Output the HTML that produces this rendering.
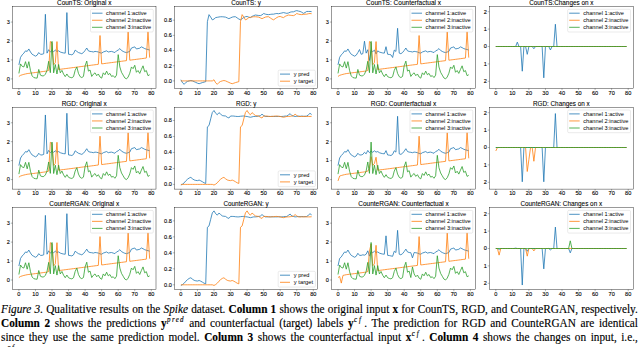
<!DOCTYPE html>
<html><head><meta charset="utf-8"><style>
html,body{margin:0;padding:0;background:#fff;}
body{width:640px;height:347px;overflow:hidden;position:relative;}
svg{position:absolute;left:0;top:0;}
svg text{font-family:"Liberation Sans",sans-serif;}
.cap{position:absolute;left:1px;width:637px;font-family:"Liberation Serif",serif;font-size:12.9px;color:#000;-webkit-text-stroke:0.15px #000;}
.ln{position:absolute;left:0;width:727px;transform:scaleX(0.876);transform-origin:0 0;white-space:nowrap;text-align:justify;text-align-last:justify;line-height:14px;}
.ln b{font-weight:bold;}
.ln sup{font-size:0.62em;vertical-align:0;position:relative;top:-4.6px;font-style:italic;letter-spacing:1.5px;margin-left:0.6px;margin-right:-0.5px;}
.ln sup.cf{margin-right:1.8px;letter-spacing:2px;}

</style></head><body>
<svg width="640" height="347" viewBox="0 0 640 347">
<polyline points="18.90,64.88 20.55,57.30 22.21,54.83 23.86,53.13 25.52,50.85 27.17,51.42 28.83,48.96 30.48,51.99 32.14,54.27 33.80,55.21 35.45,56.16 37.11,55.21 38.76,52.56 40.41,54.27 42.07,54.27 43.72,53.70 45.38,14.28 47.03,53.13 48.69,49.72 50.34,51.99 52.00,50.48 53.66,51.61 55.31,50.10 56.96,51.42 58.62,50.85 60.27,51.99 61.93,52.56 63.59,52.94 65.24,53.13 66.89,12.58 68.55,54.27 70.20,54.45 71.86,54.83 73.52,53.70 75.17,50.10 76.83,51.42 78.48,52.56 80.13,53.13 81.79,53.70 83.44,52.56 85.10,50.48 86.75,48.01 88.41,50.85 90.06,51.42 91.72,51.61 93.38,51.99 95.03,51.42 96.69,51.61 98.34,51.99 100.00,52.75 101.65,53.13 103.31,51.99 104.96,51.42 106.62,50.85 108.27,51.99 109.93,51.61 111.58,51.42 113.24,51.99 114.89,52.56 116.54,50.85 118.20,50.10 119.85,48.58 121.51,50.48 123.16,51.42 124.82,52.18 126.47,52.56 128.13,51.99 129.78,51.42 131.44,48.01 133.09,47.44 134.75,46.87 136.41,48.96 138.06,48.58 139.72,48.20 141.37,46.87 143.03,47.63 144.68,48.58 146.34,49.15 147.99,49.53 149.65,50.10" fill="none" stroke="#1f77b4" stroke-width="0.8" stroke-linejoin="round" stroke-linecap="butt"/>
<polyline points="18.90,76.44 20.55,75.35 22.21,74.80 23.86,74.34 25.52,73.95 27.17,73.59 28.83,73.38 30.48,73.16 32.14,72.95 33.80,72.73 35.45,72.51 37.11,72.30 38.76,72.08 40.41,71.87 42.07,71.65 43.72,71.43 45.38,71.22 47.03,71.00 48.69,70.37 50.34,41.57 52.00,42.90 53.66,64.69 55.31,62.79 56.96,41.57 58.62,69.49 60.27,69.27 61.93,69.06 63.59,68.84 65.24,68.63 66.89,68.41 68.55,68.19 70.20,67.98 71.86,67.76 73.52,67.55 75.17,67.33 76.83,67.11 78.48,66.90 80.13,66.68 81.79,66.47 83.44,66.25 85.10,66.03 86.75,65.82 88.41,65.60 90.06,65.38 91.72,65.17 93.38,64.95 95.03,64.74 96.69,64.52 98.34,64.30 100.00,35.50 101.65,63.87 103.31,63.66 104.96,63.44 106.62,63.22 108.27,63.01 109.93,62.79 111.58,62.58 113.24,62.36 114.89,62.14 116.54,61.93 118.20,61.71 119.85,61.50 121.51,61.28 123.16,61.06 124.82,60.85 126.47,60.63 128.13,31.90 129.78,60.20 131.44,59.98 133.09,59.77 134.75,59.55 136.41,59.34 138.06,59.12 139.72,58.90 141.37,58.69 143.03,58.47 144.68,58.26 146.34,58.04 147.99,31.53 149.65,57.61" fill="none" stroke="#ff7f0e" stroke-width="0.8" stroke-linejoin="round" stroke-linecap="butt"/>
<polyline points="18.90,73.40 20.55,63.93 22.21,66.39 23.86,66.96 25.52,61.66 27.17,68.10 28.83,61.66 30.48,70.56 32.14,75.87 33.80,77.57 35.45,77.95 37.11,78.14 38.76,69.43 40.41,75.11 42.07,75.87 43.72,75.87 45.38,74.16 47.03,70.37 48.69,61.28 50.34,72.65 52.00,41.38 53.66,72.84 55.31,64.50 56.96,73.97 58.62,64.50 60.27,72.84 61.93,70.37 63.59,74.16 65.24,76.63 66.89,73.97 68.55,76.63 70.20,77.38 71.86,77.76 73.52,76.63 75.17,70.37 76.83,66.96 78.48,73.40 80.13,76.63 81.79,77.57 83.44,76.44 85.10,65.82 86.75,61.09 88.41,71.13 90.06,69.99 91.72,76.44 93.38,74.16 95.03,72.84 96.69,75.68 98.34,73.97 100.00,77.01 101.65,78.14 103.31,72.84 104.96,74.73 106.62,71.13 108.27,74.73 109.93,73.40 111.58,76.44 113.24,75.68 114.89,77.57 116.54,75.11 118.20,54.64 119.85,66.96 121.51,72.27 123.16,75.11 124.82,77.95 126.47,78.90 128.13,77.01 129.78,73.22 131.44,66.96 133.09,68.67 134.75,65.26 136.41,72.27 138.06,70.56 139.72,73.40 141.37,69.43 143.03,65.82 144.68,71.70 146.34,70.56 147.99,75.68 149.65,74.73" fill="none" stroke="#2ca02c" stroke-width="0.8" stroke-linejoin="round" stroke-linecap="butt"/>
<rect x="90.50" y="9.30" width="62.80" height="22.70" rx="1.2" fill="#fff" fill-opacity="0.8" stroke="#ccc" stroke-width="0.4"/>
<line x1="92.00" y1="13.20" x2="102.50" y2="13.20" stroke="#1f77b4" stroke-width="0.8"/>
<text x="106.10" y="15.00" font-size="4.90" textLength="40.61" lengthAdjust="spacingAndGlyphs" fill="#000">channel 1:active</text>
<line x1="92.00" y1="20.25" x2="102.50" y2="20.25" stroke="#ff7f0e" stroke-width="0.8"/>
<text x="106.10" y="22.05" font-size="4.90" textLength="45.08" lengthAdjust="spacingAndGlyphs" fill="#000">channel 2:inactive</text>
<line x1="92.00" y1="27.30" x2="102.50" y2="27.30" stroke="#2ca02c" stroke-width="0.8"/>
<text x="106.10" y="29.10" font-size="4.90" textLength="45.08" lengthAdjust="spacingAndGlyphs" fill="#000">channel 3:inactive</text>
<rect x="12.50" y="6.50" width="143.50" height="81.90" fill="none" stroke="#000" stroke-width="0.4"/>
<line x1="18.90" y1="88.40" x2="18.90" y2="90.10" stroke="#000" stroke-width="0.3"/>
<text x="17.34" y="94.70" font-size="5.39" textLength="3.12" lengthAdjust="spacingAndGlyphs" fill="#000" stroke="#000" stroke-width="0.1">0</text>
<line x1="35.45" y1="88.40" x2="35.45" y2="90.10" stroke="#000" stroke-width="0.3"/>
<text x="32.33" y="94.70" font-size="5.39" textLength="6.24" lengthAdjust="spacingAndGlyphs" fill="#000" stroke="#000" stroke-width="0.1">10</text>
<line x1="52.00" y1="88.40" x2="52.00" y2="90.10" stroke="#000" stroke-width="0.3"/>
<text x="48.88" y="94.70" font-size="5.39" textLength="6.24" lengthAdjust="spacingAndGlyphs" fill="#000" stroke="#000" stroke-width="0.1">20</text>
<line x1="68.55" y1="88.40" x2="68.55" y2="90.10" stroke="#000" stroke-width="0.3"/>
<text x="65.43" y="94.70" font-size="5.39" textLength="6.24" lengthAdjust="spacingAndGlyphs" fill="#000" stroke="#000" stroke-width="0.1">30</text>
<line x1="85.10" y1="88.40" x2="85.10" y2="90.10" stroke="#000" stroke-width="0.3"/>
<text x="81.98" y="94.70" font-size="5.39" textLength="6.24" lengthAdjust="spacingAndGlyphs" fill="#000" stroke="#000" stroke-width="0.1">40</text>
<line x1="101.65" y1="88.40" x2="101.65" y2="90.10" stroke="#000" stroke-width="0.3"/>
<text x="98.53" y="94.70" font-size="5.39" textLength="6.24" lengthAdjust="spacingAndGlyphs" fill="#000" stroke="#000" stroke-width="0.1">50</text>
<line x1="118.20" y1="88.40" x2="118.20" y2="90.10" stroke="#000" stroke-width="0.3"/>
<text x="115.08" y="94.70" font-size="5.39" textLength="6.24" lengthAdjust="spacingAndGlyphs" fill="#000" stroke="#000" stroke-width="0.1">60</text>
<line x1="134.75" y1="88.40" x2="134.75" y2="90.10" stroke="#000" stroke-width="0.3"/>
<text x="131.63" y="94.70" font-size="5.39" textLength="6.24" lengthAdjust="spacingAndGlyphs" fill="#000" stroke="#000" stroke-width="0.1">70</text>
<line x1="151.30" y1="88.40" x2="151.30" y2="90.10" stroke="#000" stroke-width="0.3"/>
<text x="148.18" y="94.70" font-size="5.39" textLength="6.24" lengthAdjust="spacingAndGlyphs" fill="#000" stroke="#000" stroke-width="0.1">80</text>
<line x1="10.80" y1="78.90" x2="12.50" y2="78.90" stroke="#000" stroke-width="0.3"/>
<text x="6.78" y="80.70" font-size="5.39" textLength="3.12" lengthAdjust="spacingAndGlyphs" fill="#000" stroke="#000" stroke-width="0.1">0</text>
<line x1="10.80" y1="59.95" x2="12.50" y2="59.95" stroke="#000" stroke-width="0.3"/>
<text x="6.78" y="61.75" font-size="5.39" textLength="3.12" lengthAdjust="spacingAndGlyphs" fill="#000" stroke="#000" stroke-width="0.1">1</text>
<line x1="10.80" y1="41.00" x2="12.50" y2="41.00" stroke="#000" stroke-width="0.3"/>
<text x="6.78" y="42.80" font-size="5.39" textLength="3.12" lengthAdjust="spacingAndGlyphs" fill="#000" stroke="#000" stroke-width="0.1">2</text>
<line x1="10.80" y1="22.05" x2="12.50" y2="22.05" stroke="#000" stroke-width="0.3"/>
<text x="6.78" y="23.85" font-size="5.39" textLength="3.12" lengthAdjust="spacingAndGlyphs" fill="#000" stroke="#000" stroke-width="0.1">3</text>
<text x="57.05" y="4.80" font-size="6.32" textLength="54.41" lengthAdjust="spacingAndGlyphs" fill="#000" stroke="#000" stroke-width="0.08">CounTS: Original x</text>
<polyline points="180.90,79.76 182.56,82.80 184.21,84.32 185.87,82.42 187.52,81.43 189.18,80.90 190.83,80.52 192.49,80.90 194.14,81.66 195.80,82.42 197.45,83.18 199.11,83.71 200.76,83.18 202.42,82.57 204.07,82.11 205.72,81.66 207.38,21.70 209.03,14.64 210.69,17.14 212.34,19.88 214.00,19.04 215.66,17.60 217.31,17.30 218.97,16.99 220.62,16.76 222.28,16.76 223.93,16.92 225.59,17.14 227.24,17.90 228.90,18.66 230.55,17.90 232.21,17.14 233.86,16.76 235.52,16.76 237.17,17.90 238.83,19.04 240.48,19.80 242.13,18.66 243.79,17.52 245.44,16.69 247.10,16.46 248.75,17.14 250.41,17.60 252.06,16.39 253.72,15.63 255.38,15.02 257.03,15.25 258.69,15.47 260.34,15.63 262.00,14.87 263.65,13.50 265.31,14.11 266.96,14.49 268.62,14.64 270.27,14.41 271.93,14.18 273.58,14.18 275.24,13.73 276.89,13.50 278.55,13.73 280.20,13.35 281.86,12.97 283.51,12.59 285.17,12.97 286.82,13.35 288.48,12.97 290.13,12.21 291.79,11.83 293.44,11.83 295.10,11.07 296.75,10.62 298.40,11.07 300.06,11.45 301.72,12.21 303.37,13.35 305.02,12.59 306.68,11.45 308.34,11.45 309.99,11.45 311.64,11.68" fill="none" stroke="#1f77b4" stroke-width="0.8" stroke-linejoin="round" stroke-linecap="butt"/>
<polyline points="180.90,80.90 182.56,80.90 184.21,80.90 185.87,80.90 187.52,80.90 189.18,80.90 190.83,80.90 192.49,80.90 194.14,80.90 195.80,80.90 197.45,80.90 199.11,80.90 200.76,80.90 202.42,80.90 204.07,80.90 205.72,80.90 207.38,80.90 209.03,80.90 210.69,80.90 212.34,80.90 214.00,79.76 215.66,82.80 217.31,84.32 218.97,82.42 220.62,81.43 222.28,80.90 223.93,80.52 225.59,80.90 227.24,81.66 228.90,82.42 230.55,83.18 232.21,83.71 233.86,83.18 235.52,82.57 237.17,82.11 238.83,81.66 240.48,21.70 242.13,14.64 243.79,17.14 245.44,19.88 247.10,19.04 248.75,17.60 250.41,17.30 252.06,16.99 253.72,16.76 255.38,16.76 257.03,16.92 258.69,17.14 260.34,17.90 262.00,18.66 263.65,17.90 265.31,17.14 266.96,16.76 268.62,16.76 270.27,17.90 271.93,19.04 273.58,19.80 275.24,18.66 276.89,17.52 278.55,16.69 280.20,16.46 281.86,17.14 283.51,17.60 285.17,16.39 286.82,15.63 288.48,15.02 290.13,15.25 291.79,15.47 293.44,15.63 295.10,14.87 296.75,13.50 298.40,14.11 300.06,14.49 301.72,14.64 303.37,14.41 305.02,14.18 306.68,14.18 308.34,13.73 309.99,13.50 311.64,13.73" fill="none" stroke="#ff7f0e" stroke-width="0.8" stroke-linejoin="round" stroke-linecap="butt"/>
<rect x="278.20" y="70.20" width="37.20" height="15.80" rx="1.2" fill="#fff" fill-opacity="0.8" stroke="#ccc" stroke-width="0.4"/>
<line x1="280.00" y1="74.10" x2="290.00" y2="74.10" stroke="#1f77b4" stroke-width="0.8"/>
<text x="293.80" y="75.90" font-size="4.90" textLength="15.60" lengthAdjust="spacingAndGlyphs" fill="#000">y pred</text>
<line x1="280.00" y1="81.20" x2="290.00" y2="81.20" stroke="#ff7f0e" stroke-width="0.8"/>
<text x="293.80" y="83.00" font-size="4.90" textLength="19.36" lengthAdjust="spacingAndGlyphs" fill="#000">y target</text>
<rect x="174.50" y="6.50" width="143.20" height="81.90" fill="none" stroke="#000" stroke-width="0.4"/>
<line x1="180.90" y1="88.40" x2="180.90" y2="90.10" stroke="#000" stroke-width="0.3"/>
<text x="179.34" y="94.70" font-size="5.39" textLength="3.12" lengthAdjust="spacingAndGlyphs" fill="#000" stroke="#000" stroke-width="0.1">0</text>
<line x1="197.45" y1="88.40" x2="197.45" y2="90.10" stroke="#000" stroke-width="0.3"/>
<text x="194.33" y="94.70" font-size="5.39" textLength="6.24" lengthAdjust="spacingAndGlyphs" fill="#000" stroke="#000" stroke-width="0.1">10</text>
<line x1="214.00" y1="88.40" x2="214.00" y2="90.10" stroke="#000" stroke-width="0.3"/>
<text x="210.88" y="94.70" font-size="5.39" textLength="6.24" lengthAdjust="spacingAndGlyphs" fill="#000" stroke="#000" stroke-width="0.1">20</text>
<line x1="230.55" y1="88.40" x2="230.55" y2="90.10" stroke="#000" stroke-width="0.3"/>
<text x="227.43" y="94.70" font-size="5.39" textLength="6.24" lengthAdjust="spacingAndGlyphs" fill="#000" stroke="#000" stroke-width="0.1">30</text>
<line x1="247.10" y1="88.40" x2="247.10" y2="90.10" stroke="#000" stroke-width="0.3"/>
<text x="243.98" y="94.70" font-size="5.39" textLength="6.24" lengthAdjust="spacingAndGlyphs" fill="#000" stroke="#000" stroke-width="0.1">40</text>
<line x1="263.65" y1="88.40" x2="263.65" y2="90.10" stroke="#000" stroke-width="0.3"/>
<text x="260.53" y="94.70" font-size="5.39" textLength="6.24" lengthAdjust="spacingAndGlyphs" fill="#000" stroke="#000" stroke-width="0.1">50</text>
<line x1="280.20" y1="88.40" x2="280.20" y2="90.10" stroke="#000" stroke-width="0.3"/>
<text x="277.08" y="94.70" font-size="5.39" textLength="6.24" lengthAdjust="spacingAndGlyphs" fill="#000" stroke="#000" stroke-width="0.1">60</text>
<line x1="296.75" y1="88.40" x2="296.75" y2="90.10" stroke="#000" stroke-width="0.3"/>
<text x="293.63" y="94.70" font-size="5.39" textLength="6.24" lengthAdjust="spacingAndGlyphs" fill="#000" stroke="#000" stroke-width="0.1">70</text>
<line x1="313.30" y1="88.40" x2="313.30" y2="90.10" stroke="#000" stroke-width="0.3"/>
<text x="310.18" y="94.70" font-size="5.39" textLength="6.24" lengthAdjust="spacingAndGlyphs" fill="#000" stroke="#000" stroke-width="0.1">80</text>
<line x1="172.80" y1="80.90" x2="174.50" y2="80.90" stroke="#000" stroke-width="0.3"/>
<text x="164.11" y="82.70" font-size="5.39" textLength="7.79" lengthAdjust="spacingAndGlyphs" fill="#000" stroke="#000" stroke-width="0.1">0.0</text>
<line x1="172.80" y1="65.72" x2="174.50" y2="65.72" stroke="#000" stroke-width="0.3"/>
<text x="164.11" y="67.52" font-size="5.39" textLength="7.79" lengthAdjust="spacingAndGlyphs" fill="#000" stroke="#000" stroke-width="0.1">0.2</text>
<line x1="172.80" y1="50.54" x2="174.50" y2="50.54" stroke="#000" stroke-width="0.3"/>
<text x="164.11" y="52.34" font-size="5.39" textLength="7.79" lengthAdjust="spacingAndGlyphs" fill="#000" stroke="#000" stroke-width="0.1">0.4</text>
<line x1="172.80" y1="35.36" x2="174.50" y2="35.36" stroke="#000" stroke-width="0.3"/>
<text x="164.11" y="37.16" font-size="5.39" textLength="7.79" lengthAdjust="spacingAndGlyphs" fill="#000" stroke="#000" stroke-width="0.1">0.6</text>
<line x1="172.80" y1="20.18" x2="174.50" y2="20.18" stroke="#000" stroke-width="0.3"/>
<text x="164.11" y="21.98" font-size="5.39" textLength="7.79" lengthAdjust="spacingAndGlyphs" fill="#000" stroke="#000" stroke-width="0.1">0.8</text>
<text x="231.27" y="4.80" font-size="6.32" textLength="29.66" lengthAdjust="spacingAndGlyphs" fill="#000" stroke="#000" stroke-width="0.08">CounTS: y</text>
<polyline points="338.00,64.88 339.65,57.30 341.31,54.83 342.96,53.13 344.62,50.85 346.27,51.42 347.93,48.96 349.58,51.99 351.24,54.27 352.89,55.21 354.55,56.16 356.20,55.21 357.86,52.56 359.51,49.53 361.17,54.27 362.82,53.70 364.48,41.19 366.13,53.13 367.79,49.72 369.44,60.52 371.10,50.48 372.75,51.61 374.41,50.10 376.06,53.89 377.72,50.85 379.38,51.99 381.03,52.56 382.69,52.94 384.34,53.13 386.00,46.69 387.65,54.27 389.31,54.45 390.96,54.83 392.62,57.49 394.27,50.10 395.93,51.42 397.58,28.30 399.24,53.13 400.89,53.70 402.55,52.56 404.20,50.48 405.86,48.01 407.51,50.85 409.17,51.42 410.82,51.61 412.48,51.99 414.13,51.42 415.78,51.61 417.44,51.99 419.10,52.75 420.75,53.13 422.40,51.99 424.06,51.42 425.72,50.85 427.37,51.99 429.02,51.61 430.68,51.42 432.34,51.99 433.99,52.56 435.64,50.85 437.30,50.10 438.95,48.58 440.61,50.48 442.26,51.42 443.92,52.18 445.57,52.56 447.23,51.99 448.88,51.42 450.54,48.01 452.19,47.44 453.85,46.87 455.50,48.96 457.16,48.58 458.81,48.20 460.47,46.87 462.12,47.63 463.78,48.58 465.44,49.15 467.09,49.53 468.75,50.10" fill="none" stroke="#1f77b4" stroke-width="0.8" stroke-linejoin="round" stroke-linecap="butt"/>
<polyline points="338.00,76.44 339.65,75.35 341.31,74.80 342.96,74.34 344.62,73.95 346.27,73.59 347.93,73.38 349.58,73.16 351.24,72.95 352.89,72.73 354.55,72.51 356.20,72.30 357.86,72.08 359.51,71.87 361.17,71.65 362.82,71.43 364.48,71.22 366.13,71.00 367.79,70.37 369.44,41.57 371.10,42.90 372.75,64.69 374.41,62.79 376.06,41.57 377.72,69.49 379.38,69.27 381.03,69.06 382.69,68.84 384.34,68.63 386.00,68.41 387.65,68.19 389.31,67.98 390.96,67.76 392.62,67.55 394.27,67.33 395.93,67.11 397.58,66.90 399.24,66.68 400.89,66.47 402.55,66.25 404.20,66.03 405.86,65.82 407.51,65.60 409.17,65.38 410.82,65.17 412.48,64.95 414.13,64.74 415.78,64.52 417.44,64.30 419.10,35.50 420.75,63.87 422.40,63.66 424.06,63.44 425.72,63.22 427.37,63.01 429.02,62.79 430.68,62.58 432.34,62.36 433.99,62.14 435.64,61.93 437.30,61.71 438.95,61.50 440.61,61.28 442.26,61.06 443.92,60.85 445.57,60.63 447.23,31.90 448.88,60.20 450.54,59.98 452.19,59.77 453.85,59.55 455.50,59.34 457.16,59.12 458.81,58.90 460.47,58.69 462.12,58.47 463.78,58.26 465.44,58.04 467.09,31.53 468.75,57.61" fill="none" stroke="#ff7f0e" stroke-width="0.8" stroke-linejoin="round" stroke-linecap="butt"/>
<polyline points="338.00,73.40 339.65,63.93 341.31,66.39 342.96,66.96 344.62,61.66 346.27,68.10 347.93,61.66 349.58,70.56 351.24,75.87 352.89,77.57 354.55,77.95 356.20,78.14 357.86,69.43 359.51,75.11 361.17,75.87 362.82,75.87 364.48,74.16 366.13,70.37 367.79,61.28 369.44,72.65 371.10,41.38 372.75,72.84 374.41,64.50 376.06,73.97 377.72,64.50 379.38,72.84 381.03,70.37 382.69,74.16 384.34,76.63 386.00,73.97 387.65,76.63 389.31,77.38 390.96,77.76 392.62,76.63 394.27,70.37 395.93,66.96 397.58,73.40 399.24,76.63 400.89,77.57 402.55,76.44 404.20,65.82 405.86,61.09 407.51,71.13 409.17,69.99 410.82,76.44 412.48,74.16 414.13,72.84 415.78,75.68 417.44,73.97 419.10,77.01 420.75,78.14 422.40,72.84 424.06,74.73 425.72,71.13 427.37,74.73 429.02,73.40 430.68,76.44 432.34,75.68 433.99,77.57 435.64,75.11 437.30,54.64 438.95,66.96 440.61,72.27 442.26,75.11 443.92,77.95 445.57,78.90 447.23,77.01 448.88,73.22 450.54,66.96 452.19,68.67 453.85,65.26 455.50,72.27 457.16,70.56 458.81,73.40 460.47,69.43 462.12,65.82 463.78,71.70 465.44,70.56 467.09,75.68 468.75,74.73" fill="none" stroke="#2ca02c" stroke-width="0.8" stroke-linejoin="round" stroke-linecap="butt"/>
<rect x="410.00" y="9.30" width="62.80" height="22.70" rx="1.2" fill="#fff" fill-opacity="0.8" stroke="#ccc" stroke-width="0.4"/>
<line x1="411.50" y1="13.20" x2="422.00" y2="13.20" stroke="#1f77b4" stroke-width="0.8"/>
<text x="425.60" y="15.00" font-size="4.90" textLength="40.61" lengthAdjust="spacingAndGlyphs" fill="#000">channel 1:active</text>
<line x1="411.50" y1="20.25" x2="422.00" y2="20.25" stroke="#ff7f0e" stroke-width="0.8"/>
<text x="425.60" y="22.05" font-size="4.90" textLength="45.08" lengthAdjust="spacingAndGlyphs" fill="#000">channel 2:inactive</text>
<line x1="411.50" y1="27.30" x2="422.00" y2="27.30" stroke="#2ca02c" stroke-width="0.8"/>
<text x="425.60" y="29.10" font-size="4.90" textLength="45.08" lengthAdjust="spacingAndGlyphs" fill="#000">channel 3:inactive</text>
<rect x="331.60" y="6.50" width="143.90" height="81.90" fill="none" stroke="#000" stroke-width="0.4"/>
<line x1="338.00" y1="88.40" x2="338.00" y2="90.10" stroke="#000" stroke-width="0.3"/>
<text x="336.44" y="94.70" font-size="5.39" textLength="3.12" lengthAdjust="spacingAndGlyphs" fill="#000" stroke="#000" stroke-width="0.1">0</text>
<line x1="354.55" y1="88.40" x2="354.55" y2="90.10" stroke="#000" stroke-width="0.3"/>
<text x="351.43" y="94.70" font-size="5.39" textLength="6.24" lengthAdjust="spacingAndGlyphs" fill="#000" stroke="#000" stroke-width="0.1">10</text>
<line x1="371.10" y1="88.40" x2="371.10" y2="90.10" stroke="#000" stroke-width="0.3"/>
<text x="367.98" y="94.70" font-size="5.39" textLength="6.24" lengthAdjust="spacingAndGlyphs" fill="#000" stroke="#000" stroke-width="0.1">20</text>
<line x1="387.65" y1="88.40" x2="387.65" y2="90.10" stroke="#000" stroke-width="0.3"/>
<text x="384.53" y="94.70" font-size="5.39" textLength="6.24" lengthAdjust="spacingAndGlyphs" fill="#000" stroke="#000" stroke-width="0.1">30</text>
<line x1="404.20" y1="88.40" x2="404.20" y2="90.10" stroke="#000" stroke-width="0.3"/>
<text x="401.08" y="94.70" font-size="5.39" textLength="6.24" lengthAdjust="spacingAndGlyphs" fill="#000" stroke="#000" stroke-width="0.1">40</text>
<line x1="420.75" y1="88.40" x2="420.75" y2="90.10" stroke="#000" stroke-width="0.3"/>
<text x="417.63" y="94.70" font-size="5.39" textLength="6.24" lengthAdjust="spacingAndGlyphs" fill="#000" stroke="#000" stroke-width="0.1">50</text>
<line x1="437.30" y1="88.40" x2="437.30" y2="90.10" stroke="#000" stroke-width="0.3"/>
<text x="434.18" y="94.70" font-size="5.39" textLength="6.24" lengthAdjust="spacingAndGlyphs" fill="#000" stroke="#000" stroke-width="0.1">60</text>
<line x1="453.85" y1="88.40" x2="453.85" y2="90.10" stroke="#000" stroke-width="0.3"/>
<text x="450.73" y="94.70" font-size="5.39" textLength="6.24" lengthAdjust="spacingAndGlyphs" fill="#000" stroke="#000" stroke-width="0.1">70</text>
<line x1="470.40" y1="88.40" x2="470.40" y2="90.10" stroke="#000" stroke-width="0.3"/>
<text x="467.28" y="94.70" font-size="5.39" textLength="6.24" lengthAdjust="spacingAndGlyphs" fill="#000" stroke="#000" stroke-width="0.1">80</text>
<line x1="329.90" y1="78.90" x2="331.60" y2="78.90" stroke="#000" stroke-width="0.3"/>
<text x="325.88" y="80.70" font-size="5.39" textLength="3.12" lengthAdjust="spacingAndGlyphs" fill="#000" stroke="#000" stroke-width="0.1">0</text>
<line x1="329.90" y1="59.95" x2="331.60" y2="59.95" stroke="#000" stroke-width="0.3"/>
<text x="325.88" y="61.75" font-size="5.39" textLength="3.12" lengthAdjust="spacingAndGlyphs" fill="#000" stroke="#000" stroke-width="0.1">1</text>
<line x1="329.90" y1="41.00" x2="331.60" y2="41.00" stroke="#000" stroke-width="0.3"/>
<text x="325.88" y="42.80" font-size="5.39" textLength="3.12" lengthAdjust="spacingAndGlyphs" fill="#000" stroke="#000" stroke-width="0.1">2</text>
<line x1="329.90" y1="22.05" x2="331.60" y2="22.05" stroke="#000" stroke-width="0.3"/>
<text x="325.88" y="23.85" font-size="5.39" textLength="3.12" lengthAdjust="spacingAndGlyphs" fill="#000" stroke="#000" stroke-width="0.1">3</text>
<text x="366.07" y="4.80" font-size="6.32" textLength="74.97" lengthAdjust="spacingAndGlyphs" fill="#000" stroke="#000" stroke-width="0.08">CounTS: Counterfactual x</text>
<polyline points="495.80,46.50 497.45,46.50 499.11,46.50 500.76,46.50 502.42,46.50 504.07,46.50 505.73,46.50 507.38,46.50 509.04,46.50 510.69,46.50 512.35,46.50 514.00,46.50 515.66,46.50 517.31,42.15 518.97,46.50 520.62,46.50 522.28,71.21 523.93,46.50 525.59,46.50 527.25,54.33 528.90,46.50 530.55,46.50 532.21,46.50 533.87,48.76 535.52,46.50 537.17,46.50 538.83,46.50 540.48,46.50 542.14,46.50 543.79,77.82 545.45,46.50 547.10,46.50 548.76,46.50 550.41,49.98 552.07,46.50 553.72,46.50 555.38,24.23 557.03,46.50 558.69,46.50 560.34,46.50 562.00,46.50 563.65,46.50 565.31,46.50 566.96,46.50 568.62,46.50 570.27,46.50 571.93,46.50 573.58,46.50 575.24,46.50 576.89,46.50 578.55,46.50 580.20,46.50 581.86,46.50 583.51,46.50 585.17,46.50 586.82,46.50 588.48,46.50 590.13,46.50 591.79,46.50 593.44,46.50 595.10,46.50 596.75,46.50 598.41,46.50 600.06,46.50 601.72,46.50 603.38,46.50 605.03,46.50 606.68,46.50 608.34,46.50 610.00,46.50 611.65,46.50 613.30,46.50 614.96,46.50 616.62,46.50 618.27,46.50 619.92,46.50 621.58,46.50 623.23,46.50 624.89,46.50 626.54,46.50" fill="none" stroke="#1f77b4" stroke-width="0.8" stroke-linejoin="round" stroke-linecap="butt"/>
<polyline points="495.80,46.50 497.45,46.50 499.11,46.50 500.76,46.50 502.42,46.50 504.07,46.50 505.73,46.50 507.38,46.50 509.04,46.50 510.69,46.50 512.35,46.50 514.00,46.50 515.66,46.50 517.31,46.50 518.97,46.50 520.62,46.50 522.28,46.50 523.93,46.50 525.59,46.50 527.25,46.50 528.90,46.50 530.55,46.50 532.21,46.50 533.87,46.50 535.52,46.50 537.17,46.50 538.83,46.50 540.48,46.50 542.14,46.50 543.79,46.50 545.45,46.50 547.10,46.50 548.76,46.50 550.41,46.50 552.07,46.50 553.72,46.50 555.38,46.50 557.03,46.50 558.69,46.50 560.34,46.50 562.00,46.50 563.65,46.50 565.31,46.50 566.96,46.50 568.62,46.50 570.27,46.50 571.93,46.50 573.58,46.50 575.24,46.50 576.89,46.50 578.55,46.50 580.20,46.50 581.86,46.50 583.51,46.50 585.17,46.50 586.82,46.50 588.48,46.50 590.13,46.50 591.79,46.50 593.44,46.50 595.10,46.50 596.75,46.50 598.41,46.50 600.06,46.50 601.72,46.50 603.38,46.50 605.03,46.50 606.68,46.50 608.34,46.50 610.00,46.50 611.65,46.50 613.30,46.50 614.96,46.50 616.62,46.50 618.27,46.50 619.92,46.50 621.58,46.50 623.23,46.50 624.89,46.50 626.54,46.50" fill="none" stroke="#ff7f0e" stroke-width="0.8" stroke-linejoin="round" stroke-linecap="butt"/>
<polyline points="495.80,46.50 497.45,46.50 499.11,46.50 500.76,46.50 502.42,46.50 504.07,46.50 505.73,46.50 507.38,46.50 509.04,46.50 510.69,46.50 512.35,46.50 514.00,46.50 515.66,46.50 517.31,46.50 518.97,46.50 520.62,46.50 522.28,46.50 523.93,46.50 525.59,46.50 527.25,46.50 528.90,46.50 530.55,46.50 532.21,46.50 533.87,46.50 535.52,46.50 537.17,46.50 538.83,46.50 540.48,46.50 542.14,46.50 543.79,46.50 545.45,46.50 547.10,46.50 548.76,46.50 550.41,46.50 552.07,46.50 553.72,46.50 555.38,46.50 557.03,46.50 558.69,46.50 560.34,46.50 562.00,46.50 563.65,46.50 565.31,46.50 566.96,46.50 568.62,46.50 570.27,46.50 571.93,46.50 573.58,46.50 575.24,46.50 576.89,46.50 578.55,46.50 580.20,46.50 581.86,46.50 583.51,46.50 585.17,46.50 586.82,46.50 588.48,46.50 590.13,46.50 591.79,46.50 593.44,46.50 595.10,46.50 596.75,46.50 598.41,46.50 600.06,46.50 601.72,46.50 603.38,46.50 605.03,46.50 606.68,46.50 608.34,46.50 610.00,46.50 611.65,46.50 613.30,46.50 614.96,46.50 616.62,46.50 618.27,46.50 619.92,46.50 621.58,46.50 623.23,46.50 624.89,46.50 626.54,46.50" fill="none" stroke="#2ca02c" stroke-width="0.8" stroke-linejoin="round" stroke-linecap="butt"/>
<rect x="567.70" y="9.30" width="62.80" height="22.70" rx="1.2" fill="#fff" fill-opacity="0.8" stroke="#ccc" stroke-width="0.4"/>
<line x1="569.20" y1="13.20" x2="579.70" y2="13.20" stroke="#1f77b4" stroke-width="0.8"/>
<text x="583.30" y="15.00" font-size="4.90" textLength="40.61" lengthAdjust="spacingAndGlyphs" fill="#000">channel 1:active</text>
<line x1="569.20" y1="20.25" x2="579.70" y2="20.25" stroke="#ff7f0e" stroke-width="0.8"/>
<text x="583.30" y="22.05" font-size="4.90" textLength="45.08" lengthAdjust="spacingAndGlyphs" fill="#000">channel 2:inactive</text>
<line x1="569.20" y1="27.30" x2="579.70" y2="27.30" stroke="#2ca02c" stroke-width="0.8"/>
<text x="583.30" y="29.10" font-size="4.90" textLength="45.08" lengthAdjust="spacingAndGlyphs" fill="#000">channel 3:inactive</text>
<rect x="489.40" y="6.50" width="143.80" height="81.90" fill="none" stroke="#000" stroke-width="0.4"/>
<line x1="495.80" y1="88.40" x2="495.80" y2="90.10" stroke="#000" stroke-width="0.3"/>
<text x="494.24" y="94.70" font-size="5.39" textLength="3.12" lengthAdjust="spacingAndGlyphs" fill="#000" stroke="#000" stroke-width="0.1">0</text>
<line x1="512.35" y1="88.40" x2="512.35" y2="90.10" stroke="#000" stroke-width="0.3"/>
<text x="509.23" y="94.70" font-size="5.39" textLength="6.24" lengthAdjust="spacingAndGlyphs" fill="#000" stroke="#000" stroke-width="0.1">10</text>
<line x1="528.90" y1="88.40" x2="528.90" y2="90.10" stroke="#000" stroke-width="0.3"/>
<text x="525.78" y="94.70" font-size="5.39" textLength="6.24" lengthAdjust="spacingAndGlyphs" fill="#000" stroke="#000" stroke-width="0.1">20</text>
<line x1="545.45" y1="88.40" x2="545.45" y2="90.10" stroke="#000" stroke-width="0.3"/>
<text x="542.33" y="94.70" font-size="5.39" textLength="6.24" lengthAdjust="spacingAndGlyphs" fill="#000" stroke="#000" stroke-width="0.1">30</text>
<line x1="562.00" y1="88.40" x2="562.00" y2="90.10" stroke="#000" stroke-width="0.3"/>
<text x="558.88" y="94.70" font-size="5.39" textLength="6.24" lengthAdjust="spacingAndGlyphs" fill="#000" stroke="#000" stroke-width="0.1">40</text>
<line x1="578.55" y1="88.40" x2="578.55" y2="90.10" stroke="#000" stroke-width="0.3"/>
<text x="575.43" y="94.70" font-size="5.39" textLength="6.24" lengthAdjust="spacingAndGlyphs" fill="#000" stroke="#000" stroke-width="0.1">50</text>
<line x1="595.10" y1="88.40" x2="595.10" y2="90.10" stroke="#000" stroke-width="0.3"/>
<text x="591.98" y="94.70" font-size="5.39" textLength="6.24" lengthAdjust="spacingAndGlyphs" fill="#000" stroke="#000" stroke-width="0.1">60</text>
<line x1="611.65" y1="88.40" x2="611.65" y2="90.10" stroke="#000" stroke-width="0.3"/>
<text x="608.53" y="94.70" font-size="5.39" textLength="6.24" lengthAdjust="spacingAndGlyphs" fill="#000" stroke="#000" stroke-width="0.1">70</text>
<line x1="628.20" y1="88.40" x2="628.20" y2="90.10" stroke="#000" stroke-width="0.3"/>
<text x="625.08" y="94.70" font-size="5.39" textLength="6.24" lengthAdjust="spacingAndGlyphs" fill="#000" stroke="#000" stroke-width="0.1">80</text>
<line x1="487.70" y1="11.70" x2="489.40" y2="11.70" stroke="#000" stroke-width="0.3"/>
<text x="483.68" y="13.50" font-size="5.39" textLength="3.12" lengthAdjust="spacingAndGlyphs" fill="#000" stroke="#000" stroke-width="0.1">2</text>
<line x1="487.70" y1="29.10" x2="489.40" y2="29.10" stroke="#000" stroke-width="0.3"/>
<text x="483.68" y="30.90" font-size="5.39" textLength="3.12" lengthAdjust="spacingAndGlyphs" fill="#000" stroke="#000" stroke-width="0.1">1</text>
<line x1="487.70" y1="46.50" x2="489.40" y2="46.50" stroke="#000" stroke-width="0.3"/>
<text x="483.68" y="48.30" font-size="5.39" textLength="3.12" lengthAdjust="spacingAndGlyphs" fill="#000" stroke="#000" stroke-width="0.1">0</text>
<line x1="487.70" y1="63.90" x2="489.40" y2="63.90" stroke="#000" stroke-width="0.3"/>
<text x="483.68" y="65.70" font-size="5.39" textLength="3.12" lengthAdjust="spacingAndGlyphs" fill="#000" stroke="#000" stroke-width="0.1">1</text>
<line x1="487.70" y1="81.30" x2="489.40" y2="81.30" stroke="#000" stroke-width="0.3"/>
<text x="483.68" y="83.10" font-size="5.39" textLength="3.12" lengthAdjust="spacingAndGlyphs" fill="#000" stroke="#000" stroke-width="0.1">2</text>
<text x="529.17" y="4.80" font-size="6.32" textLength="64.25" lengthAdjust="spacingAndGlyphs" fill="#000" stroke="#000" stroke-width="0.08">CounTS:Changes on x</text>
<polyline points="18.90,165.58 20.55,158.00 22.21,155.53 23.86,153.83 25.52,151.55 27.17,152.12 28.83,149.66 30.48,152.69 32.14,154.97 33.80,155.91 35.45,156.86 37.11,155.91 38.76,153.26 40.41,154.97 42.07,154.97 43.72,154.40 45.38,114.98 47.03,153.83 48.69,150.42 50.34,152.69 52.00,151.18 53.66,152.31 55.31,150.80 56.96,152.12 58.62,151.55 60.27,152.69 61.93,153.26 63.59,153.64 65.24,153.83 66.89,113.28 68.55,154.97 70.20,155.15 71.86,155.53 73.52,154.40 75.17,150.80 76.83,152.12 78.48,153.26 80.13,153.83 81.79,154.40 83.44,153.26 85.10,151.18 86.75,148.71 88.41,151.55 90.06,152.12 91.72,152.31 93.38,152.69 95.03,152.12 96.69,152.31 98.34,152.69 100.00,153.45 101.65,153.83 103.31,152.69 104.96,152.12 106.62,151.55 108.27,152.69 109.93,152.31 111.58,152.12 113.24,152.69 114.89,153.26 116.54,151.55 118.20,150.80 119.85,149.28 121.51,151.18 123.16,152.12 124.82,152.88 126.47,153.26 128.13,152.69 129.78,152.12 131.44,148.71 133.09,148.14 134.75,147.57 136.41,149.66 138.06,149.28 139.72,148.90 141.37,147.57 143.03,148.33 144.68,149.28 146.34,149.85 147.99,150.23 149.65,150.80" fill="none" stroke="#1f77b4" stroke-width="0.8" stroke-linejoin="round" stroke-linecap="butt"/>
<polyline points="18.90,177.14 20.55,176.05 22.21,175.50 23.86,175.04 25.52,174.65 27.17,174.29 28.83,174.08 30.48,173.86 32.14,173.65 33.80,173.43 35.45,173.21 37.11,173.00 38.76,172.78 40.41,172.57 42.07,172.35 43.72,172.13 45.38,171.92 47.03,171.70 48.69,171.07 50.34,142.27 52.00,143.60 53.66,165.39 55.31,163.49 56.96,142.27 58.62,170.19 60.27,169.97 61.93,169.76 63.59,169.54 65.24,169.33 66.89,169.11 68.55,168.89 70.20,168.68 71.86,168.46 73.52,168.25 75.17,168.03 76.83,167.81 78.48,167.60 80.13,167.38 81.79,167.17 83.44,166.95 85.10,166.73 86.75,166.52 88.41,166.30 90.06,166.08 91.72,165.87 93.38,165.65 95.03,165.44 96.69,165.22 98.34,165.00 100.00,136.20 101.65,164.57 103.31,164.36 104.96,164.14 106.62,163.92 108.27,163.71 109.93,163.49 111.58,163.28 113.24,163.06 114.89,162.84 116.54,162.63 118.20,162.41 119.85,162.20 121.51,161.98 123.16,161.76 124.82,161.55 126.47,161.33 128.13,132.60 129.78,160.90 131.44,160.68 133.09,160.47 134.75,160.25 136.41,160.04 138.06,159.82 139.72,159.60 141.37,159.39 143.03,159.17 144.68,158.96 146.34,158.74 147.99,132.23 149.65,158.31" fill="none" stroke="#ff7f0e" stroke-width="0.8" stroke-linejoin="round" stroke-linecap="butt"/>
<polyline points="18.90,174.10 20.55,164.63 22.21,167.09 23.86,167.66 25.52,162.36 27.17,168.80 28.83,162.36 30.48,171.26 32.14,176.57 33.80,178.27 35.45,178.65 37.11,178.84 38.76,170.13 40.41,175.81 42.07,176.57 43.72,176.57 45.38,174.86 47.03,171.07 48.69,161.98 50.34,173.35 52.00,142.08 53.66,173.54 55.31,165.20 56.96,174.67 58.62,165.20 60.27,173.54 61.93,171.07 63.59,174.86 65.24,177.33 66.89,174.67 68.55,177.33 70.20,178.08 71.86,178.46 73.52,177.33 75.17,171.07 76.83,167.66 78.48,174.10 80.13,177.33 81.79,178.27 83.44,177.14 85.10,166.52 86.75,161.79 88.41,171.83 90.06,170.69 91.72,177.14 93.38,174.86 95.03,173.54 96.69,176.38 98.34,174.67 100.00,177.71 101.65,178.84 103.31,173.54 104.96,175.43 106.62,171.83 108.27,175.43 109.93,174.10 111.58,177.14 113.24,176.38 114.89,178.27 116.54,175.81 118.20,155.34 119.85,167.66 121.51,172.97 123.16,175.81 124.82,178.65 126.47,179.60 128.13,177.71 129.78,173.92 131.44,167.66 133.09,169.37 134.75,165.96 136.41,172.97 138.06,171.26 139.72,174.10 141.37,170.13 143.03,166.52 144.68,172.40 146.34,171.26 147.99,176.38 149.65,175.43" fill="none" stroke="#2ca02c" stroke-width="0.8" stroke-linejoin="round" stroke-linecap="butt"/>
<rect x="90.50" y="110.00" width="62.80" height="22.70" rx="1.2" fill="#fff" fill-opacity="0.8" stroke="#ccc" stroke-width="0.4"/>
<line x1="92.00" y1="113.90" x2="102.50" y2="113.90" stroke="#1f77b4" stroke-width="0.8"/>
<text x="106.10" y="115.70" font-size="4.90" textLength="40.61" lengthAdjust="spacingAndGlyphs" fill="#000">channel 1:active</text>
<line x1="92.00" y1="120.95" x2="102.50" y2="120.95" stroke="#ff7f0e" stroke-width="0.8"/>
<text x="106.10" y="122.75" font-size="4.90" textLength="45.08" lengthAdjust="spacingAndGlyphs" fill="#000">channel 2:inactive</text>
<line x1="92.00" y1="128.00" x2="102.50" y2="128.00" stroke="#2ca02c" stroke-width="0.8"/>
<text x="106.10" y="129.80" font-size="4.90" textLength="45.08" lengthAdjust="spacingAndGlyphs" fill="#000">channel 3:inactive</text>
<rect x="12.50" y="107.20" width="143.50" height="81.90" fill="none" stroke="#000" stroke-width="0.4"/>
<line x1="18.90" y1="189.10" x2="18.90" y2="190.80" stroke="#000" stroke-width="0.3"/>
<text x="17.34" y="195.40" font-size="5.39" textLength="3.12" lengthAdjust="spacingAndGlyphs" fill="#000" stroke="#000" stroke-width="0.1">0</text>
<line x1="35.45" y1="189.10" x2="35.45" y2="190.80" stroke="#000" stroke-width="0.3"/>
<text x="32.33" y="195.40" font-size="5.39" textLength="6.24" lengthAdjust="spacingAndGlyphs" fill="#000" stroke="#000" stroke-width="0.1">10</text>
<line x1="52.00" y1="189.10" x2="52.00" y2="190.80" stroke="#000" stroke-width="0.3"/>
<text x="48.88" y="195.40" font-size="5.39" textLength="6.24" lengthAdjust="spacingAndGlyphs" fill="#000" stroke="#000" stroke-width="0.1">20</text>
<line x1="68.55" y1="189.10" x2="68.55" y2="190.80" stroke="#000" stroke-width="0.3"/>
<text x="65.43" y="195.40" font-size="5.39" textLength="6.24" lengthAdjust="spacingAndGlyphs" fill="#000" stroke="#000" stroke-width="0.1">30</text>
<line x1="85.10" y1="189.10" x2="85.10" y2="190.80" stroke="#000" stroke-width="0.3"/>
<text x="81.98" y="195.40" font-size="5.39" textLength="6.24" lengthAdjust="spacingAndGlyphs" fill="#000" stroke="#000" stroke-width="0.1">40</text>
<line x1="101.65" y1="189.10" x2="101.65" y2="190.80" stroke="#000" stroke-width="0.3"/>
<text x="98.53" y="195.40" font-size="5.39" textLength="6.24" lengthAdjust="spacingAndGlyphs" fill="#000" stroke="#000" stroke-width="0.1">50</text>
<line x1="118.20" y1="189.10" x2="118.20" y2="190.80" stroke="#000" stroke-width="0.3"/>
<text x="115.08" y="195.40" font-size="5.39" textLength="6.24" lengthAdjust="spacingAndGlyphs" fill="#000" stroke="#000" stroke-width="0.1">60</text>
<line x1="134.75" y1="189.10" x2="134.75" y2="190.80" stroke="#000" stroke-width="0.3"/>
<text x="131.63" y="195.40" font-size="5.39" textLength="6.24" lengthAdjust="spacingAndGlyphs" fill="#000" stroke="#000" stroke-width="0.1">70</text>
<line x1="151.30" y1="189.10" x2="151.30" y2="190.80" stroke="#000" stroke-width="0.3"/>
<text x="148.18" y="195.40" font-size="5.39" textLength="6.24" lengthAdjust="spacingAndGlyphs" fill="#000" stroke="#000" stroke-width="0.1">80</text>
<line x1="10.80" y1="179.60" x2="12.50" y2="179.60" stroke="#000" stroke-width="0.3"/>
<text x="6.78" y="181.40" font-size="5.39" textLength="3.12" lengthAdjust="spacingAndGlyphs" fill="#000" stroke="#000" stroke-width="0.1">0</text>
<line x1="10.80" y1="160.65" x2="12.50" y2="160.65" stroke="#000" stroke-width="0.3"/>
<text x="6.78" y="162.45" font-size="5.39" textLength="3.12" lengthAdjust="spacingAndGlyphs" fill="#000" stroke="#000" stroke-width="0.1">1</text>
<line x1="10.80" y1="141.70" x2="12.50" y2="141.70" stroke="#000" stroke-width="0.3"/>
<text x="6.78" y="143.50" font-size="5.39" textLength="3.12" lengthAdjust="spacingAndGlyphs" fill="#000" stroke="#000" stroke-width="0.1">2</text>
<line x1="10.80" y1="122.75" x2="12.50" y2="122.75" stroke="#000" stroke-width="0.3"/>
<text x="6.78" y="124.55" font-size="5.39" textLength="3.12" lengthAdjust="spacingAndGlyphs" fill="#000" stroke="#000" stroke-width="0.1">3</text>
<text x="61.68" y="105.50" font-size="6.32" textLength="45.15" lengthAdjust="spacingAndGlyphs" fill="#000" stroke="#000" stroke-width="0.08">RGD: Original x</text>
<polyline points="180.90,185.04 182.56,184.16 184.21,182.80 185.87,180.80 187.52,179.21 189.18,178.01 190.83,177.37 192.49,178.81 194.14,179.93 195.80,180.41 197.45,180.64 199.11,180.09 200.76,180.80 202.42,181.76 204.07,182.80 205.72,183.44 207.38,126.87 209.03,125.51 210.69,118.88 212.34,112.49 214.00,110.49 215.66,113.29 217.31,114.73 218.97,112.65 220.62,114.09 222.28,115.53 223.93,115.85 225.59,116.01 227.24,117.28 228.90,118.00 230.55,116.01 232.21,116.01 233.86,116.09 235.52,116.33 237.17,116.48 238.83,116.48 240.48,116.25 242.13,116.09 243.79,116.01 245.44,116.33 247.10,116.48 248.75,116.88 250.41,117.28 252.06,116.88 253.72,116.48 255.38,116.48 257.03,116.33 258.69,116.09 260.34,115.69 262.00,114.17 263.65,115.53 265.31,116.48 266.96,116.48 268.62,116.48 270.27,116.48 271.93,116.33 273.58,116.48 275.24,116.48 276.89,116.48 278.55,116.33 280.20,116.48 281.86,116.48 283.51,116.33 285.17,116.09 286.82,116.09 288.48,114.89 290.13,113.69 291.79,115.53 293.44,116.09 295.10,116.48 296.75,116.33 298.40,116.09 300.06,116.33 301.72,116.09 303.37,116.25 305.02,116.33 306.68,116.09 308.34,114.89 309.99,113.29 311.64,114.49" fill="none" stroke="#1f77b4" stroke-width="0.8" stroke-linejoin="round" stroke-linecap="butt"/>
<polyline points="180.90,184.40 182.56,184.40 184.21,184.40 185.87,184.40 187.52,184.40 189.18,184.40 190.83,184.40 192.49,184.40 194.14,184.40 195.80,184.40 197.45,184.40 199.11,184.40 200.76,184.40 202.42,184.40 204.07,184.40 205.72,184.40 207.38,184.40 209.03,184.40 210.69,184.40 212.34,184.40 214.00,185.04 215.66,184.16 217.31,182.80 218.97,180.80 220.62,179.21 222.28,178.01 223.93,177.37 225.59,178.81 227.24,179.93 228.90,180.41 230.55,180.64 232.21,180.09 233.86,180.80 235.52,181.76 237.17,182.80 238.83,183.44 240.48,126.87 242.13,125.51 243.79,118.88 245.44,112.49 247.10,110.49 248.75,113.29 250.41,114.73 252.06,112.65 253.72,114.09 255.38,115.53 257.03,115.85 258.69,116.01 260.34,117.28 262.00,118.00 263.65,116.01 265.31,116.01 266.96,116.09 268.62,116.33 270.27,116.48 271.93,116.48 273.58,116.25 275.24,116.09 276.89,116.01 278.55,116.33 280.20,116.48 281.86,116.88 283.51,117.28 285.17,116.88 286.82,116.48 288.48,116.48 290.13,116.33 291.79,116.09 293.44,115.69 295.10,114.17 296.75,115.53 298.40,116.48 300.06,116.48 301.72,116.48 303.37,116.48 305.02,116.33 306.68,116.48 308.34,116.48 309.99,116.48 311.64,116.33" fill="none" stroke="#ff7f0e" stroke-width="0.8" stroke-linejoin="round" stroke-linecap="butt"/>
<rect x="278.20" y="170.90" width="37.20" height="15.80" rx="1.2" fill="#fff" fill-opacity="0.8" stroke="#ccc" stroke-width="0.4"/>
<line x1="280.00" y1="174.80" x2="290.00" y2="174.80" stroke="#1f77b4" stroke-width="0.8"/>
<text x="293.80" y="176.60" font-size="4.90" textLength="15.60" lengthAdjust="spacingAndGlyphs" fill="#000">y pred</text>
<line x1="280.00" y1="181.90" x2="290.00" y2="181.90" stroke="#ff7f0e" stroke-width="0.8"/>
<text x="293.80" y="183.70" font-size="4.90" textLength="19.36" lengthAdjust="spacingAndGlyphs" fill="#000">y target</text>
<rect x="174.50" y="107.20" width="143.20" height="81.90" fill="none" stroke="#000" stroke-width="0.4"/>
<line x1="180.90" y1="189.10" x2="180.90" y2="190.80" stroke="#000" stroke-width="0.3"/>
<text x="179.34" y="195.40" font-size="5.39" textLength="3.12" lengthAdjust="spacingAndGlyphs" fill="#000" stroke="#000" stroke-width="0.1">0</text>
<line x1="197.45" y1="189.10" x2="197.45" y2="190.80" stroke="#000" stroke-width="0.3"/>
<text x="194.33" y="195.40" font-size="5.39" textLength="6.24" lengthAdjust="spacingAndGlyphs" fill="#000" stroke="#000" stroke-width="0.1">10</text>
<line x1="214.00" y1="189.10" x2="214.00" y2="190.80" stroke="#000" stroke-width="0.3"/>
<text x="210.88" y="195.40" font-size="5.39" textLength="6.24" lengthAdjust="spacingAndGlyphs" fill="#000" stroke="#000" stroke-width="0.1">20</text>
<line x1="230.55" y1="189.10" x2="230.55" y2="190.80" stroke="#000" stroke-width="0.3"/>
<text x="227.43" y="195.40" font-size="5.39" textLength="6.24" lengthAdjust="spacingAndGlyphs" fill="#000" stroke="#000" stroke-width="0.1">30</text>
<line x1="247.10" y1="189.10" x2="247.10" y2="190.80" stroke="#000" stroke-width="0.3"/>
<text x="243.98" y="195.40" font-size="5.39" textLength="6.24" lengthAdjust="spacingAndGlyphs" fill="#000" stroke="#000" stroke-width="0.1">40</text>
<line x1="263.65" y1="189.10" x2="263.65" y2="190.80" stroke="#000" stroke-width="0.3"/>
<text x="260.53" y="195.40" font-size="5.39" textLength="6.24" lengthAdjust="spacingAndGlyphs" fill="#000" stroke="#000" stroke-width="0.1">50</text>
<line x1="280.20" y1="189.10" x2="280.20" y2="190.80" stroke="#000" stroke-width="0.3"/>
<text x="277.08" y="195.40" font-size="5.39" textLength="6.24" lengthAdjust="spacingAndGlyphs" fill="#000" stroke="#000" stroke-width="0.1">60</text>
<line x1="296.75" y1="189.10" x2="296.75" y2="190.80" stroke="#000" stroke-width="0.3"/>
<text x="293.63" y="195.40" font-size="5.39" textLength="6.24" lengthAdjust="spacingAndGlyphs" fill="#000" stroke="#000" stroke-width="0.1">70</text>
<line x1="313.30" y1="189.10" x2="313.30" y2="190.80" stroke="#000" stroke-width="0.3"/>
<text x="310.18" y="195.40" font-size="5.39" textLength="6.24" lengthAdjust="spacingAndGlyphs" fill="#000" stroke="#000" stroke-width="0.1">80</text>
<line x1="172.80" y1="184.40" x2="174.50" y2="184.40" stroke="#000" stroke-width="0.3"/>
<text x="164.11" y="186.20" font-size="5.39" textLength="7.79" lengthAdjust="spacingAndGlyphs" fill="#000" stroke="#000" stroke-width="0.1">0.0</text>
<line x1="172.80" y1="168.42" x2="174.50" y2="168.42" stroke="#000" stroke-width="0.3"/>
<text x="164.11" y="170.22" font-size="5.39" textLength="7.79" lengthAdjust="spacingAndGlyphs" fill="#000" stroke="#000" stroke-width="0.1">0.2</text>
<line x1="172.80" y1="152.44" x2="174.50" y2="152.44" stroke="#000" stroke-width="0.3"/>
<text x="164.11" y="154.24" font-size="5.39" textLength="7.79" lengthAdjust="spacingAndGlyphs" fill="#000" stroke="#000" stroke-width="0.1">0.4</text>
<line x1="172.80" y1="136.46" x2="174.50" y2="136.46" stroke="#000" stroke-width="0.3"/>
<text x="164.11" y="138.26" font-size="5.39" textLength="7.79" lengthAdjust="spacingAndGlyphs" fill="#000" stroke="#000" stroke-width="0.1">0.6</text>
<line x1="172.80" y1="120.48" x2="174.50" y2="120.48" stroke="#000" stroke-width="0.3"/>
<text x="164.11" y="122.28" font-size="5.39" textLength="7.79" lengthAdjust="spacingAndGlyphs" fill="#000" stroke="#000" stroke-width="0.1">0.8</text>
<text x="235.90" y="105.50" font-size="6.32" textLength="20.40" lengthAdjust="spacingAndGlyphs" fill="#000" stroke="#000" stroke-width="0.08">RGD: y</text>
<polyline points="338.00,165.58 339.65,158.00 341.31,155.53 342.96,153.83 344.62,151.55 346.27,152.12 347.93,149.66 349.58,152.69 351.24,154.97 352.89,155.91 354.55,156.86 356.20,155.91 357.86,153.26 359.51,154.97 361.17,154.97 362.82,154.40 364.48,152.31 366.13,153.83 367.79,150.42 369.44,152.69 371.10,151.18 372.75,152.31 374.41,150.80 376.06,152.12 377.72,151.55 379.38,152.69 381.03,153.26 382.69,153.64 384.34,153.83 386.00,150.61 387.65,154.97 389.31,155.15 390.96,155.53 392.62,154.40 394.27,150.80 395.93,152.12 397.58,116.31 399.24,153.83 400.89,154.40 402.55,153.26 404.20,151.18 405.86,148.71 407.51,151.55 409.17,152.12 410.82,152.31 412.48,152.69 414.13,152.12 415.78,152.31 417.44,152.69 419.10,153.45 420.75,153.83 422.40,152.69 424.06,152.12 425.72,151.55 427.37,152.69 429.02,152.31 430.68,152.12 432.34,152.69 433.99,153.26 435.64,151.55 437.30,150.80 438.95,149.28 440.61,151.18 442.26,152.12 443.92,152.88 445.57,153.26 447.23,152.69 448.88,152.12 450.54,148.71 452.19,148.14 453.85,147.57 455.50,149.66 457.16,149.28 458.81,148.90 460.47,147.57 462.12,148.33 463.78,149.28 465.44,149.85 467.09,150.23 468.75,150.80" fill="none" stroke="#1f77b4" stroke-width="0.8" stroke-linejoin="round" stroke-linecap="butt"/>
<polyline points="338.00,180.93 339.65,176.05 341.31,175.50 342.96,175.04 344.62,174.65 346.27,174.29 347.93,174.08 349.58,173.86 351.24,173.65 352.89,173.43 354.55,173.21 356.20,173.00 357.86,172.78 359.51,172.57 361.17,172.35 362.82,172.13 364.48,171.92 366.13,171.70 367.79,171.07 369.44,168.42 371.10,156.67 372.75,165.39 374.41,163.49 376.06,157.24 377.72,170.19 379.38,169.97 381.03,169.76 382.69,169.54 384.34,169.33 386.00,169.11 387.65,168.89 389.31,168.68 390.96,168.46 392.62,168.25 394.27,168.03 395.93,167.81 397.58,167.60 399.24,167.38 400.89,167.17 402.55,166.95 404.20,166.73 405.86,166.52 407.51,166.30 409.17,166.08 410.82,165.87 412.48,165.65 414.13,165.44 415.78,165.22 417.44,165.00 419.10,136.20 420.75,164.57 422.40,164.36 424.06,164.14 425.72,163.92 427.37,163.71 429.02,163.49 430.68,163.28 432.34,163.06 433.99,162.84 435.64,162.63 437.30,162.41 438.95,162.20 440.61,161.98 442.26,161.76 443.92,161.55 445.57,161.33 447.23,132.60 448.88,160.90 450.54,160.68 452.19,160.47 453.85,160.25 455.50,160.04 457.16,159.82 458.81,159.60 460.47,159.39 462.12,159.17 463.78,158.96 465.44,158.74 467.09,132.23 468.75,158.31" fill="none" stroke="#ff7f0e" stroke-width="0.8" stroke-linejoin="round" stroke-linecap="butt"/>
<polyline points="338.00,174.10 339.65,164.63 341.31,167.09 342.96,167.66 344.62,162.36 346.27,168.80 347.93,162.36 349.58,171.26 351.24,176.57 352.89,178.27 354.55,178.65 356.20,178.84 357.86,170.13 359.51,175.81 361.17,176.57 362.82,176.57 364.48,174.86 366.13,171.07 367.79,161.98 369.44,173.35 371.10,142.08 372.75,173.54 374.41,165.20 376.06,174.67 377.72,165.20 379.38,173.54 381.03,171.07 382.69,174.86 384.34,177.33 386.00,174.67 387.65,177.33 389.31,178.08 390.96,178.46 392.62,177.33 394.27,171.07 395.93,167.66 397.58,174.10 399.24,177.33 400.89,178.27 402.55,177.14 404.20,166.52 405.86,161.79 407.51,171.83 409.17,170.69 410.82,177.14 412.48,174.86 414.13,173.54 415.78,176.38 417.44,174.67 419.10,177.71 420.75,178.84 422.40,173.54 424.06,175.43 425.72,171.83 427.37,175.43 429.02,174.10 430.68,177.14 432.34,176.38 433.99,178.27 435.64,175.81 437.30,155.34 438.95,167.66 440.61,172.97 442.26,175.81 443.92,178.65 445.57,179.60 447.23,177.71 448.88,173.92 450.54,167.66 452.19,169.37 453.85,165.96 455.50,172.97 457.16,171.26 458.81,174.10 460.47,170.13 462.12,166.52 463.78,172.40 465.44,171.26 467.09,176.38 468.75,175.43" fill="none" stroke="#2ca02c" stroke-width="0.8" stroke-linejoin="round" stroke-linecap="butt"/>
<rect x="410.00" y="110.00" width="62.80" height="22.70" rx="1.2" fill="#fff" fill-opacity="0.8" stroke="#ccc" stroke-width="0.4"/>
<line x1="411.50" y1="113.90" x2="422.00" y2="113.90" stroke="#1f77b4" stroke-width="0.8"/>
<text x="425.60" y="115.70" font-size="4.90" textLength="40.61" lengthAdjust="spacingAndGlyphs" fill="#000">channel 1:active</text>
<line x1="411.50" y1="120.95" x2="422.00" y2="120.95" stroke="#ff7f0e" stroke-width="0.8"/>
<text x="425.60" y="122.75" font-size="4.90" textLength="45.08" lengthAdjust="spacingAndGlyphs" fill="#000">channel 2:inactive</text>
<line x1="411.50" y1="128.00" x2="422.00" y2="128.00" stroke="#2ca02c" stroke-width="0.8"/>
<text x="425.60" y="129.80" font-size="4.90" textLength="45.08" lengthAdjust="spacingAndGlyphs" fill="#000">channel 3:inactive</text>
<rect x="331.60" y="107.20" width="143.90" height="81.90" fill="none" stroke="#000" stroke-width="0.4"/>
<line x1="338.00" y1="189.10" x2="338.00" y2="190.80" stroke="#000" stroke-width="0.3"/>
<text x="336.44" y="195.40" font-size="5.39" textLength="3.12" lengthAdjust="spacingAndGlyphs" fill="#000" stroke="#000" stroke-width="0.1">0</text>
<line x1="354.55" y1="189.10" x2="354.55" y2="190.80" stroke="#000" stroke-width="0.3"/>
<text x="351.43" y="195.40" font-size="5.39" textLength="6.24" lengthAdjust="spacingAndGlyphs" fill="#000" stroke="#000" stroke-width="0.1">10</text>
<line x1="371.10" y1="189.10" x2="371.10" y2="190.80" stroke="#000" stroke-width="0.3"/>
<text x="367.98" y="195.40" font-size="5.39" textLength="6.24" lengthAdjust="spacingAndGlyphs" fill="#000" stroke="#000" stroke-width="0.1">20</text>
<line x1="387.65" y1="189.10" x2="387.65" y2="190.80" stroke="#000" stroke-width="0.3"/>
<text x="384.53" y="195.40" font-size="5.39" textLength="6.24" lengthAdjust="spacingAndGlyphs" fill="#000" stroke="#000" stroke-width="0.1">30</text>
<line x1="404.20" y1="189.10" x2="404.20" y2="190.80" stroke="#000" stroke-width="0.3"/>
<text x="401.08" y="195.40" font-size="5.39" textLength="6.24" lengthAdjust="spacingAndGlyphs" fill="#000" stroke="#000" stroke-width="0.1">40</text>
<line x1="420.75" y1="189.10" x2="420.75" y2="190.80" stroke="#000" stroke-width="0.3"/>
<text x="417.63" y="195.40" font-size="5.39" textLength="6.24" lengthAdjust="spacingAndGlyphs" fill="#000" stroke="#000" stroke-width="0.1">50</text>
<line x1="437.30" y1="189.10" x2="437.30" y2="190.80" stroke="#000" stroke-width="0.3"/>
<text x="434.18" y="195.40" font-size="5.39" textLength="6.24" lengthAdjust="spacingAndGlyphs" fill="#000" stroke="#000" stroke-width="0.1">60</text>
<line x1="453.85" y1="189.10" x2="453.85" y2="190.80" stroke="#000" stroke-width="0.3"/>
<text x="450.73" y="195.40" font-size="5.39" textLength="6.24" lengthAdjust="spacingAndGlyphs" fill="#000" stroke="#000" stroke-width="0.1">70</text>
<line x1="470.40" y1="189.10" x2="470.40" y2="190.80" stroke="#000" stroke-width="0.3"/>
<text x="467.28" y="195.40" font-size="5.39" textLength="6.24" lengthAdjust="spacingAndGlyphs" fill="#000" stroke="#000" stroke-width="0.1">80</text>
<line x1="329.90" y1="179.60" x2="331.60" y2="179.60" stroke="#000" stroke-width="0.3"/>
<text x="325.88" y="181.40" font-size="5.39" textLength="3.12" lengthAdjust="spacingAndGlyphs" fill="#000" stroke="#000" stroke-width="0.1">0</text>
<line x1="329.90" y1="160.65" x2="331.60" y2="160.65" stroke="#000" stroke-width="0.3"/>
<text x="325.88" y="162.45" font-size="5.39" textLength="3.12" lengthAdjust="spacingAndGlyphs" fill="#000" stroke="#000" stroke-width="0.1">1</text>
<line x1="329.90" y1="141.70" x2="331.60" y2="141.70" stroke="#000" stroke-width="0.3"/>
<text x="325.88" y="143.50" font-size="5.39" textLength="3.12" lengthAdjust="spacingAndGlyphs" fill="#000" stroke="#000" stroke-width="0.1">2</text>
<line x1="329.90" y1="122.75" x2="331.60" y2="122.75" stroke="#000" stroke-width="0.3"/>
<text x="325.88" y="124.55" font-size="5.39" textLength="3.12" lengthAdjust="spacingAndGlyphs" fill="#000" stroke="#000" stroke-width="0.1">3</text>
<text x="370.70" y="105.50" font-size="6.32" textLength="65.70" lengthAdjust="spacingAndGlyphs" fill="#000" stroke="#000" stroke-width="0.08">RGD: Counterfactual x</text>
<polyline points="495.80,147.50 497.45,147.50 499.11,147.50 500.76,147.50 502.42,147.50 504.07,147.50 505.73,147.50 507.38,147.50 509.04,147.50 510.69,147.50 512.35,147.50 514.00,147.50 515.66,147.50 517.31,147.50 518.97,147.50 520.62,147.50 522.28,181.78 523.93,147.50 525.59,147.50 527.25,147.50 528.90,147.50 530.55,147.50 532.21,147.50 533.87,147.50 535.52,147.50 537.17,147.50 538.83,147.50 540.48,147.50 542.14,147.50 543.79,181.78 545.45,147.50 547.10,147.50 548.76,147.50 550.41,147.50 552.07,147.50 553.72,147.50 555.38,113.57 557.03,147.50 558.69,147.50 560.34,147.50 562.00,147.50 563.65,147.50 565.31,147.50 566.96,147.50 568.62,147.50 570.27,147.50 571.93,147.50 573.58,147.50 575.24,147.50 576.89,147.50 578.55,147.50 580.20,147.50 581.86,147.50 583.51,147.50 585.17,147.50 586.82,147.50 588.48,147.50 590.13,147.50 591.79,147.50 593.44,147.50 595.10,147.50 596.75,147.50 598.41,147.50 600.06,147.50 601.72,147.50 603.38,147.50 605.03,147.50 606.68,147.50 608.34,147.50 610.00,147.50 611.65,147.50 613.30,147.50 614.96,147.50 616.62,147.50 618.27,147.50 619.92,147.50 621.58,147.50 623.23,147.50 624.89,147.50 626.54,147.50" fill="none" stroke="#1f77b4" stroke-width="0.8" stroke-linejoin="round" stroke-linecap="butt"/>
<polyline points="495.80,150.98 497.45,147.50 499.11,147.50 500.76,147.50 502.42,147.50 504.07,147.50 505.73,147.50 507.38,147.50 509.04,147.50 510.69,147.50 512.35,147.50 514.00,147.50 515.66,147.50 517.31,147.50 518.97,147.50 520.62,147.50 522.28,147.50 523.93,147.50 525.59,147.50 527.25,171.51 528.90,159.51 530.55,147.50 532.21,147.50 533.87,161.25 535.52,147.50 537.17,147.50 538.83,147.50 540.48,147.50 542.14,147.50 543.79,147.50 545.45,147.50 547.10,147.50 548.76,147.50 550.41,147.50 552.07,147.50 553.72,147.50 555.38,147.50 557.03,147.50 558.69,147.50 560.34,147.50 562.00,147.50 563.65,147.50 565.31,147.50 566.96,147.50 568.62,147.50 570.27,147.50 571.93,147.50 573.58,147.50 575.24,147.50 576.89,147.50 578.55,147.50 580.20,147.50 581.86,147.50 583.51,147.50 585.17,147.50 586.82,147.50 588.48,147.50 590.13,147.50 591.79,147.50 593.44,147.50 595.10,147.50 596.75,147.50 598.41,147.50 600.06,147.50 601.72,147.50 603.38,147.50 605.03,147.50 606.68,147.50 608.34,147.50 610.00,147.50 611.65,147.50 613.30,147.50 614.96,147.50 616.62,147.50 618.27,147.50 619.92,147.50 621.58,147.50 623.23,147.50 624.89,147.50 626.54,147.50" fill="none" stroke="#ff7f0e" stroke-width="0.8" stroke-linejoin="round" stroke-linecap="butt"/>
<polyline points="495.80,147.50 497.45,147.50 499.11,147.50 500.76,147.50 502.42,147.50 504.07,147.50 505.73,147.50 507.38,147.50 509.04,147.50 510.69,147.50 512.35,147.50 514.00,147.50 515.66,147.50 517.31,147.50 518.97,147.50 520.62,147.50 522.28,147.50 523.93,147.50 525.59,147.50 527.25,147.50 528.90,147.50 530.55,147.50 532.21,147.50 533.87,147.50 535.52,147.50 537.17,147.50 538.83,147.50 540.48,147.50 542.14,147.50 543.79,147.50 545.45,147.50 547.10,147.50 548.76,147.50 550.41,147.50 552.07,147.50 553.72,147.50 555.38,147.50 557.03,147.50 558.69,147.50 560.34,147.50 562.00,147.50 563.65,147.50 565.31,147.50 566.96,147.50 568.62,147.50 570.27,147.50 571.93,147.50 573.58,147.50 575.24,147.50 576.89,147.50 578.55,147.50 580.20,147.50 581.86,147.50 583.51,147.50 585.17,147.50 586.82,147.50 588.48,147.50 590.13,147.50 591.79,147.50 593.44,147.50 595.10,147.50 596.75,147.50 598.41,147.50 600.06,147.50 601.72,147.50 603.38,147.50 605.03,147.50 606.68,147.50 608.34,147.50 610.00,147.50 611.65,147.50 613.30,147.50 614.96,147.50 616.62,147.50 618.27,147.50 619.92,147.50 621.58,147.50 623.23,147.50 624.89,147.50 626.54,147.50" fill="none" stroke="#2ca02c" stroke-width="0.8" stroke-linejoin="round" stroke-linecap="butt"/>
<rect x="567.70" y="110.00" width="62.80" height="22.70" rx="1.2" fill="#fff" fill-opacity="0.8" stroke="#ccc" stroke-width="0.4"/>
<line x1="569.20" y1="113.90" x2="579.70" y2="113.90" stroke="#1f77b4" stroke-width="0.8"/>
<text x="583.30" y="115.70" font-size="4.90" textLength="40.61" lengthAdjust="spacingAndGlyphs" fill="#000">channel 1:active</text>
<line x1="569.20" y1="120.95" x2="579.70" y2="120.95" stroke="#ff7f0e" stroke-width="0.8"/>
<text x="583.30" y="122.75" font-size="4.90" textLength="45.08" lengthAdjust="spacingAndGlyphs" fill="#000">channel 2:inactive</text>
<line x1="569.20" y1="128.00" x2="579.70" y2="128.00" stroke="#2ca02c" stroke-width="0.8"/>
<text x="583.30" y="129.80" font-size="4.90" textLength="45.08" lengthAdjust="spacingAndGlyphs" fill="#000">channel 3:inactive</text>
<rect x="489.40" y="107.20" width="143.80" height="81.90" fill="none" stroke="#000" stroke-width="0.4"/>
<line x1="495.80" y1="189.10" x2="495.80" y2="190.80" stroke="#000" stroke-width="0.3"/>
<text x="494.24" y="195.40" font-size="5.39" textLength="3.12" lengthAdjust="spacingAndGlyphs" fill="#000" stroke="#000" stroke-width="0.1">0</text>
<line x1="512.35" y1="189.10" x2="512.35" y2="190.80" stroke="#000" stroke-width="0.3"/>
<text x="509.23" y="195.40" font-size="5.39" textLength="6.24" lengthAdjust="spacingAndGlyphs" fill="#000" stroke="#000" stroke-width="0.1">10</text>
<line x1="528.90" y1="189.10" x2="528.90" y2="190.80" stroke="#000" stroke-width="0.3"/>
<text x="525.78" y="195.40" font-size="5.39" textLength="6.24" lengthAdjust="spacingAndGlyphs" fill="#000" stroke="#000" stroke-width="0.1">20</text>
<line x1="545.45" y1="189.10" x2="545.45" y2="190.80" stroke="#000" stroke-width="0.3"/>
<text x="542.33" y="195.40" font-size="5.39" textLength="6.24" lengthAdjust="spacingAndGlyphs" fill="#000" stroke="#000" stroke-width="0.1">30</text>
<line x1="562.00" y1="189.10" x2="562.00" y2="190.80" stroke="#000" stroke-width="0.3"/>
<text x="558.88" y="195.40" font-size="5.39" textLength="6.24" lengthAdjust="spacingAndGlyphs" fill="#000" stroke="#000" stroke-width="0.1">40</text>
<line x1="578.55" y1="189.10" x2="578.55" y2="190.80" stroke="#000" stroke-width="0.3"/>
<text x="575.43" y="195.40" font-size="5.39" textLength="6.24" lengthAdjust="spacingAndGlyphs" fill="#000" stroke="#000" stroke-width="0.1">50</text>
<line x1="595.10" y1="189.10" x2="595.10" y2="190.80" stroke="#000" stroke-width="0.3"/>
<text x="591.98" y="195.40" font-size="5.39" textLength="6.24" lengthAdjust="spacingAndGlyphs" fill="#000" stroke="#000" stroke-width="0.1">60</text>
<line x1="611.65" y1="189.10" x2="611.65" y2="190.80" stroke="#000" stroke-width="0.3"/>
<text x="608.53" y="195.40" font-size="5.39" textLength="6.24" lengthAdjust="spacingAndGlyphs" fill="#000" stroke="#000" stroke-width="0.1">70</text>
<line x1="628.20" y1="189.10" x2="628.20" y2="190.80" stroke="#000" stroke-width="0.3"/>
<text x="625.08" y="195.40" font-size="5.39" textLength="6.24" lengthAdjust="spacingAndGlyphs" fill="#000" stroke="#000" stroke-width="0.1">80</text>
<line x1="487.70" y1="112.70" x2="489.40" y2="112.70" stroke="#000" stroke-width="0.3"/>
<text x="483.68" y="114.50" font-size="5.39" textLength="3.12" lengthAdjust="spacingAndGlyphs" fill="#000" stroke="#000" stroke-width="0.1">2</text>
<line x1="487.70" y1="130.10" x2="489.40" y2="130.10" stroke="#000" stroke-width="0.3"/>
<text x="483.68" y="131.90" font-size="5.39" textLength="3.12" lengthAdjust="spacingAndGlyphs" fill="#000" stroke="#000" stroke-width="0.1">1</text>
<line x1="487.70" y1="147.50" x2="489.40" y2="147.50" stroke="#000" stroke-width="0.3"/>
<text x="483.68" y="149.30" font-size="5.39" textLength="3.12" lengthAdjust="spacingAndGlyphs" fill="#000" stroke="#000" stroke-width="0.1">0</text>
<line x1="487.70" y1="164.90" x2="489.40" y2="164.90" stroke="#000" stroke-width="0.3"/>
<text x="483.68" y="166.70" font-size="5.39" textLength="3.12" lengthAdjust="spacingAndGlyphs" fill="#000" stroke="#000" stroke-width="0.1">1</text>
<line x1="487.70" y1="182.30" x2="489.40" y2="182.30" stroke="#000" stroke-width="0.3"/>
<text x="483.68" y="184.10" font-size="5.39" textLength="3.12" lengthAdjust="spacingAndGlyphs" fill="#000" stroke="#000" stroke-width="0.1">2</text>
<text x="532.88" y="105.50" font-size="6.32" textLength="56.85" lengthAdjust="spacingAndGlyphs" fill="#000" stroke="#000" stroke-width="0.08">RGD: Changes on x</text>
<polyline points="18.90,265.98 20.55,258.40 22.21,255.93 23.86,254.23 25.52,251.95 27.17,252.52 28.83,250.06 30.48,253.09 32.14,255.37 33.80,256.31 35.45,257.26 37.11,256.31 38.76,253.66 40.41,255.37 42.07,255.37 43.72,254.80 45.38,215.38 47.03,254.23 48.69,250.82 50.34,253.09 52.00,251.57 53.66,252.71 55.31,251.20 56.96,252.52 58.62,251.95 60.27,253.09 61.93,253.66 63.59,254.04 65.24,254.23 66.89,213.68 68.55,255.37 70.20,255.55 71.86,255.93 73.52,254.80 75.17,251.20 76.83,252.52 78.48,253.66 80.13,254.23 81.79,254.80 83.44,253.66 85.10,251.57 86.75,249.11 88.41,251.95 90.06,252.52 91.72,252.71 93.38,253.09 95.03,252.52 96.69,252.71 98.34,253.09 100.00,253.85 101.65,254.23 103.31,253.09 104.96,252.52 106.62,251.95 108.27,253.09 109.93,252.71 111.58,252.52 113.24,253.09 114.89,253.66 116.54,251.95 118.20,251.20 119.85,249.68 121.51,251.57 123.16,252.52 124.82,253.28 126.47,253.66 128.13,253.09 129.78,252.52 131.44,249.11 133.09,248.54 134.75,247.97 136.41,250.06 138.06,249.68 139.72,249.30 141.37,247.97 143.03,248.73 144.68,249.68 146.34,250.25 147.99,250.63 149.65,251.20" fill="none" stroke="#1f77b4" stroke-width="0.8" stroke-linejoin="round" stroke-linecap="butt"/>
<polyline points="18.90,277.54 20.55,276.45 22.21,275.90 23.86,275.44 25.52,275.05 27.17,274.69 28.83,274.48 30.48,274.26 32.14,274.05 33.80,273.83 35.45,273.61 37.11,273.40 38.76,273.18 40.41,272.97 42.07,272.75 43.72,272.53 45.38,272.32 47.03,272.10 48.69,271.47 50.34,242.67 52.00,244.00 53.66,265.79 55.31,263.89 56.96,242.67 58.62,270.59 60.27,270.37 61.93,270.16 63.59,269.94 65.24,269.73 66.89,269.51 68.55,269.29 70.20,269.08 71.86,268.86 73.52,268.65 75.17,268.43 76.83,268.21 78.48,268.00 80.13,267.78 81.79,267.57 83.44,267.35 85.10,267.13 86.75,266.92 88.41,266.70 90.06,266.48 91.72,266.27 93.38,266.05 95.03,265.84 96.69,265.62 98.34,265.40 100.00,236.60 101.65,264.97 103.31,264.76 104.96,264.54 106.62,264.32 108.27,264.11 109.93,263.89 111.58,263.68 113.24,263.46 114.89,263.24 116.54,263.03 118.20,262.81 119.85,262.60 121.51,262.38 123.16,262.16 124.82,261.95 126.47,261.73 128.13,233.00 129.78,261.30 131.44,261.08 133.09,260.87 134.75,260.65 136.41,260.44 138.06,260.22 139.72,260.00 141.37,259.79 143.03,259.57 144.68,259.36 146.34,259.14 147.99,232.62 149.65,258.71" fill="none" stroke="#ff7f0e" stroke-width="0.8" stroke-linejoin="round" stroke-linecap="butt"/>
<polyline points="18.90,274.50 20.55,265.03 22.21,267.49 23.86,268.06 25.52,262.76 27.17,269.20 28.83,262.76 30.48,271.66 32.14,276.97 33.80,278.67 35.45,279.05 37.11,279.24 38.76,270.52 40.41,276.21 42.07,276.97 43.72,276.97 45.38,275.26 47.03,271.47 48.69,262.38 50.34,273.75 52.00,242.48 53.66,273.94 55.31,265.60 56.96,275.07 58.62,265.60 60.27,273.94 61.93,271.47 63.59,275.26 65.24,277.73 66.89,275.07 68.55,277.73 70.20,278.48 71.86,278.86 73.52,277.73 75.17,271.47 76.83,268.06 78.48,274.50 80.13,277.73 81.79,278.67 83.44,277.54 85.10,266.92 86.75,262.19 88.41,272.23 90.06,271.09 91.72,277.54 93.38,275.26 95.03,273.94 96.69,276.78 98.34,275.07 100.00,278.11 101.65,279.24 103.31,273.94 104.96,275.83 106.62,272.23 108.27,275.83 109.93,274.50 111.58,277.54 113.24,276.78 114.89,278.67 116.54,276.21 118.20,255.74 119.85,268.06 121.51,273.37 123.16,276.21 124.82,279.05 126.47,280.00 128.13,278.11 129.78,274.31 131.44,268.06 133.09,269.77 134.75,266.36 136.41,273.37 138.06,271.66 139.72,274.50 141.37,270.52 143.03,266.92 144.68,272.80 146.34,271.66 147.99,276.78 149.65,275.83" fill="none" stroke="#2ca02c" stroke-width="0.8" stroke-linejoin="round" stroke-linecap="butt"/>
<rect x="90.50" y="210.40" width="62.80" height="22.70" rx="1.2" fill="#fff" fill-opacity="0.8" stroke="#ccc" stroke-width="0.4"/>
<line x1="92.00" y1="214.30" x2="102.50" y2="214.30" stroke="#1f77b4" stroke-width="0.8"/>
<text x="106.10" y="216.10" font-size="4.90" textLength="40.61" lengthAdjust="spacingAndGlyphs" fill="#000">channel 1:active</text>
<line x1="92.00" y1="221.35" x2="102.50" y2="221.35" stroke="#ff7f0e" stroke-width="0.8"/>
<text x="106.10" y="223.15" font-size="4.90" textLength="45.08" lengthAdjust="spacingAndGlyphs" fill="#000">channel 2:inactive</text>
<line x1="92.00" y1="228.40" x2="102.50" y2="228.40" stroke="#2ca02c" stroke-width="0.8"/>
<text x="106.10" y="230.20" font-size="4.90" textLength="45.08" lengthAdjust="spacingAndGlyphs" fill="#000">channel 3:inactive</text>
<rect x="12.50" y="207.60" width="143.50" height="81.90" fill="none" stroke="#000" stroke-width="0.4"/>
<line x1="18.90" y1="289.50" x2="18.90" y2="291.20" stroke="#000" stroke-width="0.3"/>
<text x="17.34" y="295.80" font-size="5.39" textLength="3.12" lengthAdjust="spacingAndGlyphs" fill="#000" stroke="#000" stroke-width="0.1">0</text>
<line x1="35.45" y1="289.50" x2="35.45" y2="291.20" stroke="#000" stroke-width="0.3"/>
<text x="32.33" y="295.80" font-size="5.39" textLength="6.24" lengthAdjust="spacingAndGlyphs" fill="#000" stroke="#000" stroke-width="0.1">10</text>
<line x1="52.00" y1="289.50" x2="52.00" y2="291.20" stroke="#000" stroke-width="0.3"/>
<text x="48.88" y="295.80" font-size="5.39" textLength="6.24" lengthAdjust="spacingAndGlyphs" fill="#000" stroke="#000" stroke-width="0.1">20</text>
<line x1="68.55" y1="289.50" x2="68.55" y2="291.20" stroke="#000" stroke-width="0.3"/>
<text x="65.43" y="295.80" font-size="5.39" textLength="6.24" lengthAdjust="spacingAndGlyphs" fill="#000" stroke="#000" stroke-width="0.1">30</text>
<line x1="85.10" y1="289.50" x2="85.10" y2="291.20" stroke="#000" stroke-width="0.3"/>
<text x="81.98" y="295.80" font-size="5.39" textLength="6.24" lengthAdjust="spacingAndGlyphs" fill="#000" stroke="#000" stroke-width="0.1">40</text>
<line x1="101.65" y1="289.50" x2="101.65" y2="291.20" stroke="#000" stroke-width="0.3"/>
<text x="98.53" y="295.80" font-size="5.39" textLength="6.24" lengthAdjust="spacingAndGlyphs" fill="#000" stroke="#000" stroke-width="0.1">50</text>
<line x1="118.20" y1="289.50" x2="118.20" y2="291.20" stroke="#000" stroke-width="0.3"/>
<text x="115.08" y="295.80" font-size="5.39" textLength="6.24" lengthAdjust="spacingAndGlyphs" fill="#000" stroke="#000" stroke-width="0.1">60</text>
<line x1="134.75" y1="289.50" x2="134.75" y2="291.20" stroke="#000" stroke-width="0.3"/>
<text x="131.63" y="295.80" font-size="5.39" textLength="6.24" lengthAdjust="spacingAndGlyphs" fill="#000" stroke="#000" stroke-width="0.1">70</text>
<line x1="151.30" y1="289.50" x2="151.30" y2="291.20" stroke="#000" stroke-width="0.3"/>
<text x="148.18" y="295.80" font-size="5.39" textLength="6.24" lengthAdjust="spacingAndGlyphs" fill="#000" stroke="#000" stroke-width="0.1">80</text>
<line x1="10.80" y1="280.00" x2="12.50" y2="280.00" stroke="#000" stroke-width="0.3"/>
<text x="6.78" y="281.80" font-size="5.39" textLength="3.12" lengthAdjust="spacingAndGlyphs" fill="#000" stroke="#000" stroke-width="0.1">0</text>
<line x1="10.80" y1="261.05" x2="12.50" y2="261.05" stroke="#000" stroke-width="0.3"/>
<text x="6.78" y="262.85" font-size="5.39" textLength="3.12" lengthAdjust="spacingAndGlyphs" fill="#000" stroke="#000" stroke-width="0.1">1</text>
<line x1="10.80" y1="242.10" x2="12.50" y2="242.10" stroke="#000" stroke-width="0.3"/>
<text x="6.78" y="243.90" font-size="5.39" textLength="3.12" lengthAdjust="spacingAndGlyphs" fill="#000" stroke="#000" stroke-width="0.1">2</text>
<line x1="10.80" y1="223.15" x2="12.50" y2="223.15" stroke="#000" stroke-width="0.3"/>
<text x="6.78" y="224.95" font-size="5.39" textLength="3.12" lengthAdjust="spacingAndGlyphs" fill="#000" stroke="#000" stroke-width="0.1">3</text>
<text x="49.25" y="205.90" font-size="6.32" textLength="69.99" lengthAdjust="spacingAndGlyphs" fill="#000" stroke="#000" stroke-width="0.08">CounteRGAN: Original x</text>
<polyline points="180.90,285.44 182.56,284.56 184.21,283.20 185.87,281.20 187.52,279.61 189.18,278.41 190.83,277.77 192.49,279.21 194.14,280.33 195.80,280.81 197.45,281.04 199.11,280.49 200.76,281.20 202.42,282.16 204.07,283.20 205.72,283.84 207.38,227.27 209.03,225.91 210.69,219.28 212.34,212.89 214.00,210.89 215.66,213.69 217.31,215.13 218.97,213.05 220.62,214.49 222.28,215.93 223.93,216.25 225.59,216.41 227.24,217.68 228.90,218.40 230.55,216.41 232.21,216.41 233.86,216.49 235.52,216.73 237.17,216.88 238.83,216.88 240.48,216.65 242.13,216.49 243.79,216.41 245.44,216.73 247.10,216.88 248.75,217.28 250.41,217.68 252.06,217.28 253.72,216.88 255.38,216.88 257.03,216.73 258.69,216.49 260.34,216.09 262.00,214.57 263.65,215.93 265.31,216.88 266.96,216.88 268.62,216.88 270.27,216.88 271.93,216.73 273.58,216.88 275.24,216.88 276.89,216.88 278.55,216.73 280.20,216.88 281.86,216.88 283.51,216.73 285.17,216.49 286.82,216.49 288.48,215.29 290.13,214.09 291.79,215.93 293.44,216.49 295.10,216.88 296.75,216.73 298.40,216.49 300.06,216.73 301.72,216.49 303.37,216.65 305.02,216.73 306.68,216.49 308.34,215.29 309.99,213.69 311.64,214.89" fill="none" stroke="#1f77b4" stroke-width="0.8" stroke-linejoin="round" stroke-linecap="butt"/>
<polyline points="180.90,284.80 182.56,284.80 184.21,284.80 185.87,284.80 187.52,284.80 189.18,284.80 190.83,284.80 192.49,284.80 194.14,284.80 195.80,284.80 197.45,284.80 199.11,284.80 200.76,284.80 202.42,284.80 204.07,284.80 205.72,284.80 207.38,284.80 209.03,284.80 210.69,284.80 212.34,284.80 214.00,285.44 215.66,284.56 217.31,283.20 218.97,281.20 220.62,279.61 222.28,278.41 223.93,277.77 225.59,279.21 227.24,280.33 228.90,280.81 230.55,281.04 232.21,280.49 233.86,281.20 235.52,282.16 237.17,283.20 238.83,283.84 240.48,227.27 242.13,225.91 243.79,219.28 245.44,212.89 247.10,210.89 248.75,213.69 250.41,215.13 252.06,213.05 253.72,214.49 255.38,215.93 257.03,216.25 258.69,216.41 260.34,217.68 262.00,218.40 263.65,216.41 265.31,216.41 266.96,216.49 268.62,216.73 270.27,216.88 271.93,216.88 273.58,216.65 275.24,216.49 276.89,216.41 278.55,216.73 280.20,216.88 281.86,217.28 283.51,217.68 285.17,217.28 286.82,216.88 288.48,216.88 290.13,216.73 291.79,216.49 293.44,216.09 295.10,214.57 296.75,215.93 298.40,216.88 300.06,216.88 301.72,216.88 303.37,216.88 305.02,216.73 306.68,216.88 308.34,216.88 309.99,216.88 311.64,216.73" fill="none" stroke="#ff7f0e" stroke-width="0.8" stroke-linejoin="round" stroke-linecap="butt"/>
<rect x="278.20" y="271.30" width="37.20" height="15.80" rx="1.2" fill="#fff" fill-opacity="0.8" stroke="#ccc" stroke-width="0.4"/>
<line x1="280.00" y1="275.20" x2="290.00" y2="275.20" stroke="#1f77b4" stroke-width="0.8"/>
<text x="293.80" y="277.00" font-size="4.90" textLength="15.60" lengthAdjust="spacingAndGlyphs" fill="#000">y pred</text>
<line x1="280.00" y1="282.30" x2="290.00" y2="282.30" stroke="#ff7f0e" stroke-width="0.8"/>
<text x="293.80" y="284.10" font-size="4.90" textLength="19.36" lengthAdjust="spacingAndGlyphs" fill="#000">y target</text>
<rect x="174.50" y="207.60" width="143.20" height="81.90" fill="none" stroke="#000" stroke-width="0.4"/>
<line x1="180.90" y1="289.50" x2="180.90" y2="291.20" stroke="#000" stroke-width="0.3"/>
<text x="179.34" y="295.80" font-size="5.39" textLength="3.12" lengthAdjust="spacingAndGlyphs" fill="#000" stroke="#000" stroke-width="0.1">0</text>
<line x1="197.45" y1="289.50" x2="197.45" y2="291.20" stroke="#000" stroke-width="0.3"/>
<text x="194.33" y="295.80" font-size="5.39" textLength="6.24" lengthAdjust="spacingAndGlyphs" fill="#000" stroke="#000" stroke-width="0.1">10</text>
<line x1="214.00" y1="289.50" x2="214.00" y2="291.20" stroke="#000" stroke-width="0.3"/>
<text x="210.88" y="295.80" font-size="5.39" textLength="6.24" lengthAdjust="spacingAndGlyphs" fill="#000" stroke="#000" stroke-width="0.1">20</text>
<line x1="230.55" y1="289.50" x2="230.55" y2="291.20" stroke="#000" stroke-width="0.3"/>
<text x="227.43" y="295.80" font-size="5.39" textLength="6.24" lengthAdjust="spacingAndGlyphs" fill="#000" stroke="#000" stroke-width="0.1">30</text>
<line x1="247.10" y1="289.50" x2="247.10" y2="291.20" stroke="#000" stroke-width="0.3"/>
<text x="243.98" y="295.80" font-size="5.39" textLength="6.24" lengthAdjust="spacingAndGlyphs" fill="#000" stroke="#000" stroke-width="0.1">40</text>
<line x1="263.65" y1="289.50" x2="263.65" y2="291.20" stroke="#000" stroke-width="0.3"/>
<text x="260.53" y="295.80" font-size="5.39" textLength="6.24" lengthAdjust="spacingAndGlyphs" fill="#000" stroke="#000" stroke-width="0.1">50</text>
<line x1="280.20" y1="289.50" x2="280.20" y2="291.20" stroke="#000" stroke-width="0.3"/>
<text x="277.08" y="295.80" font-size="5.39" textLength="6.24" lengthAdjust="spacingAndGlyphs" fill="#000" stroke="#000" stroke-width="0.1">60</text>
<line x1="296.75" y1="289.50" x2="296.75" y2="291.20" stroke="#000" stroke-width="0.3"/>
<text x="293.63" y="295.80" font-size="5.39" textLength="6.24" lengthAdjust="spacingAndGlyphs" fill="#000" stroke="#000" stroke-width="0.1">70</text>
<line x1="313.30" y1="289.50" x2="313.30" y2="291.20" stroke="#000" stroke-width="0.3"/>
<text x="310.18" y="295.80" font-size="5.39" textLength="6.24" lengthAdjust="spacingAndGlyphs" fill="#000" stroke="#000" stroke-width="0.1">80</text>
<line x1="172.80" y1="284.80" x2="174.50" y2="284.80" stroke="#000" stroke-width="0.3"/>
<text x="164.11" y="286.60" font-size="5.39" textLength="7.79" lengthAdjust="spacingAndGlyphs" fill="#000" stroke="#000" stroke-width="0.1">0.0</text>
<line x1="172.80" y1="268.82" x2="174.50" y2="268.82" stroke="#000" stroke-width="0.3"/>
<text x="164.11" y="270.62" font-size="5.39" textLength="7.79" lengthAdjust="spacingAndGlyphs" fill="#000" stroke="#000" stroke-width="0.1">0.2</text>
<line x1="172.80" y1="252.84" x2="174.50" y2="252.84" stroke="#000" stroke-width="0.3"/>
<text x="164.11" y="254.64" font-size="5.39" textLength="7.79" lengthAdjust="spacingAndGlyphs" fill="#000" stroke="#000" stroke-width="0.1">0.4</text>
<line x1="172.80" y1="236.86" x2="174.50" y2="236.86" stroke="#000" stroke-width="0.3"/>
<text x="164.11" y="238.66" font-size="5.39" textLength="7.79" lengthAdjust="spacingAndGlyphs" fill="#000" stroke="#000" stroke-width="0.1">0.6</text>
<line x1="172.80" y1="220.88" x2="174.50" y2="220.88" stroke="#000" stroke-width="0.3"/>
<text x="164.11" y="222.68" font-size="5.39" textLength="7.79" lengthAdjust="spacingAndGlyphs" fill="#000" stroke="#000" stroke-width="0.1">0.8</text>
<text x="223.48" y="205.90" font-size="6.32" textLength="45.24" lengthAdjust="spacingAndGlyphs" fill="#000" stroke="#000" stroke-width="0.08">CounteRGAN: y</text>
<polyline points="338.00,265.98 339.65,258.40 341.31,256.88 342.96,254.23 344.62,251.95 346.27,252.52 347.93,250.06 349.58,253.09 351.24,255.37 352.89,256.31 354.55,257.26 356.20,256.31 357.86,253.28 359.51,255.37 361.17,255.37 362.82,254.80 364.48,255.18 366.13,254.23 367.79,250.82 369.44,256.12 371.10,251.57 372.75,252.71 374.41,251.20 376.06,252.52 377.72,251.95 379.38,253.09 381.03,253.66 382.69,254.04 384.34,254.23 386.00,235.85 387.65,255.37 389.31,255.55 390.96,255.93 392.62,256.31 394.27,251.20 395.93,252.52 397.58,230.35 399.24,254.23 400.89,254.80 402.55,253.66 404.20,251.57 405.86,249.11 407.51,251.95 409.17,252.52 410.82,252.71 412.48,257.83 414.13,252.52 415.78,252.71 417.44,253.09 419.10,253.85 420.75,254.23 422.40,253.09 424.06,252.52 425.72,251.95 427.37,253.09 429.02,252.71 430.68,252.52 432.34,253.09 433.99,253.66 435.64,251.95 437.30,251.20 438.95,249.68 440.61,251.57 442.26,252.52 443.92,253.28 445.57,253.66 447.23,253.09 448.88,252.52 450.54,249.11 452.19,248.54 453.85,247.97 455.50,250.06 457.16,249.68 458.81,249.30 460.47,247.97 462.12,248.73 463.78,249.68 465.44,250.25 467.09,250.63 468.75,251.20" fill="none" stroke="#1f77b4" stroke-width="0.8" stroke-linejoin="round" stroke-linecap="butt"/>
<polyline points="338.00,277.54 339.65,276.45 341.31,283.10 342.96,275.44 344.62,275.05 346.27,274.69 347.93,274.48 349.58,274.26 351.24,274.05 352.89,273.83 354.55,273.61 356.20,273.40 357.86,273.18 359.51,272.97 361.17,272.75 362.82,272.53 364.48,272.32 366.13,272.10 367.79,271.47 369.44,251.01 371.10,244.00 372.75,265.79 374.41,263.89 376.06,245.32 377.72,270.59 379.38,270.37 381.03,270.16 382.69,269.94 384.34,269.73 386.00,269.51 387.65,269.29 389.31,269.08 390.96,268.86 392.62,268.65 394.27,268.43 395.93,268.21 397.58,268.00 399.24,267.78 400.89,267.57 402.55,267.35 404.20,267.13 405.86,266.92 407.51,266.70 409.17,266.48 410.82,266.27 412.48,266.05 414.13,265.84 415.78,265.62 417.44,265.40 419.10,236.60 420.75,264.97 422.40,264.76 424.06,264.54 425.72,264.32 427.37,264.11 429.02,263.89 430.68,263.68 432.34,263.46 433.99,263.24 435.64,263.03 437.30,262.81 438.95,262.60 440.61,262.38 442.26,262.16 443.92,261.95 445.57,261.73 447.23,233.00 448.88,261.30 450.54,261.08 452.19,260.87 453.85,260.65 455.50,260.44 457.16,260.22 458.81,260.00 460.47,259.79 462.12,259.57 463.78,259.36 465.44,259.14 467.09,232.62 468.75,258.71" fill="none" stroke="#ff7f0e" stroke-width="0.8" stroke-linejoin="round" stroke-linecap="butt"/>
<polyline points="338.00,274.50 339.65,265.03 341.31,267.49 342.96,268.06 344.62,262.76 346.27,269.20 347.93,262.76 349.58,271.66 351.24,276.97 352.89,278.67 354.55,279.05 356.20,279.24 357.86,270.52 359.51,276.21 361.17,276.97 362.82,276.97 364.48,275.26 366.13,271.47 367.79,262.38 369.44,273.75 371.10,242.48 372.75,273.94 374.41,265.60 376.06,275.07 377.72,265.60 379.38,273.94 381.03,271.47 382.69,275.26 384.34,277.73 386.00,275.07 387.65,277.73 389.31,278.48 390.96,278.86 392.62,277.73 394.27,271.47 395.93,268.06 397.58,274.50 399.24,277.73 400.89,278.67 402.55,277.54 404.20,266.92 405.86,262.19 407.51,272.23 409.17,271.09 410.82,277.54 412.48,266.92 414.13,273.94 415.78,276.78 417.44,275.07 419.10,278.11 420.75,279.24 422.40,273.94 424.06,275.83 425.72,272.23 427.37,275.83 429.02,274.50 430.68,277.54 432.34,276.78 433.99,278.67 435.64,276.21 437.30,255.74 438.95,268.06 440.61,273.37 442.26,276.21 443.92,279.05 445.57,280.00 447.23,278.11 448.88,274.31 450.54,268.06 452.19,269.77 453.85,266.36 455.50,273.37 457.16,271.66 458.81,274.50 460.47,270.52 462.12,266.92 463.78,272.80 465.44,271.66 467.09,276.78 468.75,275.83" fill="none" stroke="#2ca02c" stroke-width="0.8" stroke-linejoin="round" stroke-linecap="butt"/>
<rect x="410.00" y="210.40" width="62.80" height="22.70" rx="1.2" fill="#fff" fill-opacity="0.8" stroke="#ccc" stroke-width="0.4"/>
<line x1="411.50" y1="214.30" x2="422.00" y2="214.30" stroke="#1f77b4" stroke-width="0.8"/>
<text x="425.60" y="216.10" font-size="4.90" textLength="40.61" lengthAdjust="spacingAndGlyphs" fill="#000">channel 1:active</text>
<line x1="411.50" y1="221.35" x2="422.00" y2="221.35" stroke="#ff7f0e" stroke-width="0.8"/>
<text x="425.60" y="223.15" font-size="4.90" textLength="45.08" lengthAdjust="spacingAndGlyphs" fill="#000">channel 2:inactive</text>
<line x1="411.50" y1="228.40" x2="422.00" y2="228.40" stroke="#2ca02c" stroke-width="0.8"/>
<text x="425.60" y="230.20" font-size="4.90" textLength="45.08" lengthAdjust="spacingAndGlyphs" fill="#000">channel 3:inactive</text>
<rect x="331.60" y="207.60" width="143.90" height="81.90" fill="none" stroke="#000" stroke-width="0.4"/>
<line x1="338.00" y1="289.50" x2="338.00" y2="291.20" stroke="#000" stroke-width="0.3"/>
<text x="336.44" y="295.80" font-size="5.39" textLength="3.12" lengthAdjust="spacingAndGlyphs" fill="#000" stroke="#000" stroke-width="0.1">0</text>
<line x1="354.55" y1="289.50" x2="354.55" y2="291.20" stroke="#000" stroke-width="0.3"/>
<text x="351.43" y="295.80" font-size="5.39" textLength="6.24" lengthAdjust="spacingAndGlyphs" fill="#000" stroke="#000" stroke-width="0.1">10</text>
<line x1="371.10" y1="289.50" x2="371.10" y2="291.20" stroke="#000" stroke-width="0.3"/>
<text x="367.98" y="295.80" font-size="5.39" textLength="6.24" lengthAdjust="spacingAndGlyphs" fill="#000" stroke="#000" stroke-width="0.1">20</text>
<line x1="387.65" y1="289.50" x2="387.65" y2="291.20" stroke="#000" stroke-width="0.3"/>
<text x="384.53" y="295.80" font-size="5.39" textLength="6.24" lengthAdjust="spacingAndGlyphs" fill="#000" stroke="#000" stroke-width="0.1">30</text>
<line x1="404.20" y1="289.50" x2="404.20" y2="291.20" stroke="#000" stroke-width="0.3"/>
<text x="401.08" y="295.80" font-size="5.39" textLength="6.24" lengthAdjust="spacingAndGlyphs" fill="#000" stroke="#000" stroke-width="0.1">40</text>
<line x1="420.75" y1="289.50" x2="420.75" y2="291.20" stroke="#000" stroke-width="0.3"/>
<text x="417.63" y="295.80" font-size="5.39" textLength="6.24" lengthAdjust="spacingAndGlyphs" fill="#000" stroke="#000" stroke-width="0.1">50</text>
<line x1="437.30" y1="289.50" x2="437.30" y2="291.20" stroke="#000" stroke-width="0.3"/>
<text x="434.18" y="295.80" font-size="5.39" textLength="6.24" lengthAdjust="spacingAndGlyphs" fill="#000" stroke="#000" stroke-width="0.1">60</text>
<line x1="453.85" y1="289.50" x2="453.85" y2="291.20" stroke="#000" stroke-width="0.3"/>
<text x="450.73" y="295.80" font-size="5.39" textLength="6.24" lengthAdjust="spacingAndGlyphs" fill="#000" stroke="#000" stroke-width="0.1">70</text>
<line x1="470.40" y1="289.50" x2="470.40" y2="291.20" stroke="#000" stroke-width="0.3"/>
<text x="467.28" y="295.80" font-size="5.39" textLength="6.24" lengthAdjust="spacingAndGlyphs" fill="#000" stroke="#000" stroke-width="0.1">80</text>
<line x1="329.90" y1="280.00" x2="331.60" y2="280.00" stroke="#000" stroke-width="0.3"/>
<text x="325.88" y="281.80" font-size="5.39" textLength="3.12" lengthAdjust="spacingAndGlyphs" fill="#000" stroke="#000" stroke-width="0.1">0</text>
<line x1="329.90" y1="261.05" x2="331.60" y2="261.05" stroke="#000" stroke-width="0.3"/>
<text x="325.88" y="262.85" font-size="5.39" textLength="3.12" lengthAdjust="spacingAndGlyphs" fill="#000" stroke="#000" stroke-width="0.1">1</text>
<line x1="329.90" y1="242.10" x2="331.60" y2="242.10" stroke="#000" stroke-width="0.3"/>
<text x="325.88" y="243.90" font-size="5.39" textLength="3.12" lengthAdjust="spacingAndGlyphs" fill="#000" stroke="#000" stroke-width="0.1">2</text>
<line x1="329.90" y1="223.15" x2="331.60" y2="223.15" stroke="#000" stroke-width="0.3"/>
<text x="325.88" y="224.95" font-size="5.39" textLength="3.12" lengthAdjust="spacingAndGlyphs" fill="#000" stroke="#000" stroke-width="0.1">3</text>
<text x="358.28" y="205.90" font-size="6.32" textLength="90.55" lengthAdjust="spacingAndGlyphs" fill="#000" stroke="#000" stroke-width="0.08">CounteRGAN: Counterfactual x</text>
<polyline points="495.80,248.50 497.45,248.50 499.11,249.37 500.76,248.50 502.42,248.50 504.07,248.50 505.73,248.50 507.38,248.50 509.04,248.50 510.69,248.50 512.35,248.50 514.00,248.50 515.66,248.15 517.31,248.50 518.97,248.50 520.62,248.50 522.28,285.04 523.93,248.50 525.59,248.50 527.25,251.28 528.90,248.50 530.55,248.50 532.21,248.50 533.87,248.50 535.52,248.50 537.17,248.50 538.83,248.50 540.48,248.50 542.14,248.50 543.79,268.86 545.45,248.50 547.10,248.50 548.76,248.50 550.41,249.89 552.07,248.50 553.72,248.50 555.38,227.10 557.03,248.50 558.69,248.50 560.34,248.50 562.00,248.50 563.65,248.50 565.31,248.50 566.96,248.50 568.62,248.50 570.27,252.85 571.93,248.50 573.58,248.50 575.24,248.50 576.89,248.50 578.55,248.50 580.20,248.50 581.86,248.50 583.51,248.50 585.17,248.50 586.82,248.50 588.48,248.50 590.13,248.50 591.79,248.50 593.44,248.50 595.10,248.50 596.75,248.50 598.41,248.50 600.06,248.50 601.72,248.50 603.38,248.50 605.03,248.50 606.68,248.50 608.34,248.50 610.00,248.50 611.65,248.50 613.30,248.50 614.96,248.50 616.62,248.50 618.27,248.50 619.92,248.50 621.58,248.50 623.23,248.50 624.89,248.50 626.54,248.50" fill="none" stroke="#1f77b4" stroke-width="0.8" stroke-linejoin="round" stroke-linecap="butt"/>
<polyline points="495.80,248.50 497.45,248.50 499.11,255.11 500.76,248.50 502.42,248.50 504.07,248.50 505.73,248.50 507.38,248.50 509.04,248.50 510.69,248.50 512.35,248.50 514.00,248.50 515.66,248.50 517.31,248.50 518.97,248.50 520.62,248.50 522.28,248.50 523.93,248.50 525.59,248.50 527.25,256.16 528.90,248.50 530.55,248.50 532.21,248.50 533.87,250.94 535.52,248.50 537.17,248.50 538.83,248.50 540.48,248.50 542.14,248.50 543.79,248.50 545.45,248.50 547.10,248.50 548.76,248.50 550.41,248.50 552.07,248.50 553.72,248.50 555.38,248.50 557.03,248.50 558.69,248.50 560.34,248.50 562.00,248.50 563.65,248.50 565.31,248.50 566.96,248.50 568.62,248.50 570.27,248.50 571.93,248.50 573.58,248.50 575.24,248.50 576.89,248.50 578.55,248.50 580.20,248.50 581.86,248.50 583.51,248.50 585.17,248.50 586.82,248.50 588.48,248.50 590.13,248.50 591.79,248.50 593.44,248.50 595.10,248.50 596.75,248.50 598.41,248.50 600.06,248.50 601.72,248.50 603.38,248.50 605.03,248.50 606.68,248.50 608.34,248.50 610.00,248.50 611.65,248.50 613.30,248.50 614.96,248.50 616.62,248.50 618.27,248.50 619.92,248.50 621.58,248.50 623.23,248.50 624.89,248.50 626.54,248.50" fill="none" stroke="#ff7f0e" stroke-width="0.8" stroke-linejoin="round" stroke-linecap="butt"/>
<polyline points="495.80,248.50 497.45,248.50 499.11,248.50 500.76,248.50 502.42,248.50 504.07,248.50 505.73,248.50 507.38,248.50 509.04,248.50 510.69,248.50 512.35,248.50 514.00,248.50 515.66,248.50 517.31,248.50 518.97,248.50 520.62,248.50 522.28,248.50 523.93,248.50 525.59,248.50 527.25,248.50 528.90,248.50 530.55,248.50 532.21,248.50 533.87,248.50 535.52,248.50 537.17,248.50 538.83,248.50 540.48,248.50 542.14,248.50 543.79,248.50 545.45,248.50 547.10,248.50 548.76,248.50 550.41,248.50 552.07,248.50 553.72,248.50 555.38,248.50 557.03,248.50 558.69,248.50 560.34,248.50 562.00,248.50 563.65,248.50 565.31,248.50 566.96,248.50 568.62,248.50 570.27,240.84 571.93,248.50 573.58,248.50 575.24,248.50 576.89,248.50 578.55,248.50 580.20,248.50 581.86,248.50 583.51,248.50 585.17,248.50 586.82,248.50 588.48,248.50 590.13,248.50 591.79,248.50 593.44,248.50 595.10,248.50 596.75,248.50 598.41,248.50 600.06,248.50 601.72,248.50 603.38,248.50 605.03,248.50 606.68,248.50 608.34,248.50 610.00,248.50 611.65,248.50 613.30,248.50 614.96,248.50 616.62,248.50 618.27,248.50 619.92,248.50 621.58,248.50 623.23,248.50 624.89,248.50 626.54,248.50" fill="none" stroke="#2ca02c" stroke-width="0.8" stroke-linejoin="round" stroke-linecap="butt"/>
<rect x="567.70" y="210.40" width="62.80" height="22.70" rx="1.2" fill="#fff" fill-opacity="0.8" stroke="#ccc" stroke-width="0.4"/>
<line x1="569.20" y1="214.30" x2="579.70" y2="214.30" stroke="#1f77b4" stroke-width="0.8"/>
<text x="583.30" y="216.10" font-size="4.90" textLength="40.61" lengthAdjust="spacingAndGlyphs" fill="#000">channel 1:active</text>
<line x1="569.20" y1="221.35" x2="579.70" y2="221.35" stroke="#ff7f0e" stroke-width="0.8"/>
<text x="583.30" y="223.15" font-size="4.90" textLength="45.08" lengthAdjust="spacingAndGlyphs" fill="#000">channel 2:inactive</text>
<line x1="569.20" y1="228.40" x2="579.70" y2="228.40" stroke="#2ca02c" stroke-width="0.8"/>
<text x="583.30" y="230.20" font-size="4.90" textLength="45.08" lengthAdjust="spacingAndGlyphs" fill="#000">channel 3:inactive</text>
<rect x="489.40" y="207.60" width="143.80" height="81.90" fill="none" stroke="#000" stroke-width="0.4"/>
<line x1="495.80" y1="289.50" x2="495.80" y2="291.20" stroke="#000" stroke-width="0.3"/>
<text x="494.24" y="295.80" font-size="5.39" textLength="3.12" lengthAdjust="spacingAndGlyphs" fill="#000" stroke="#000" stroke-width="0.1">0</text>
<line x1="512.35" y1="289.50" x2="512.35" y2="291.20" stroke="#000" stroke-width="0.3"/>
<text x="509.23" y="295.80" font-size="5.39" textLength="6.24" lengthAdjust="spacingAndGlyphs" fill="#000" stroke="#000" stroke-width="0.1">10</text>
<line x1="528.90" y1="289.50" x2="528.90" y2="291.20" stroke="#000" stroke-width="0.3"/>
<text x="525.78" y="295.80" font-size="5.39" textLength="6.24" lengthAdjust="spacingAndGlyphs" fill="#000" stroke="#000" stroke-width="0.1">20</text>
<line x1="545.45" y1="289.50" x2="545.45" y2="291.20" stroke="#000" stroke-width="0.3"/>
<text x="542.33" y="295.80" font-size="5.39" textLength="6.24" lengthAdjust="spacingAndGlyphs" fill="#000" stroke="#000" stroke-width="0.1">30</text>
<line x1="562.00" y1="289.50" x2="562.00" y2="291.20" stroke="#000" stroke-width="0.3"/>
<text x="558.88" y="295.80" font-size="5.39" textLength="6.24" lengthAdjust="spacingAndGlyphs" fill="#000" stroke="#000" stroke-width="0.1">40</text>
<line x1="578.55" y1="289.50" x2="578.55" y2="291.20" stroke="#000" stroke-width="0.3"/>
<text x="575.43" y="295.80" font-size="5.39" textLength="6.24" lengthAdjust="spacingAndGlyphs" fill="#000" stroke="#000" stroke-width="0.1">50</text>
<line x1="595.10" y1="289.50" x2="595.10" y2="291.20" stroke="#000" stroke-width="0.3"/>
<text x="591.98" y="295.80" font-size="5.39" textLength="6.24" lengthAdjust="spacingAndGlyphs" fill="#000" stroke="#000" stroke-width="0.1">60</text>
<line x1="611.65" y1="289.50" x2="611.65" y2="291.20" stroke="#000" stroke-width="0.3"/>
<text x="608.53" y="295.80" font-size="5.39" textLength="6.24" lengthAdjust="spacingAndGlyphs" fill="#000" stroke="#000" stroke-width="0.1">70</text>
<line x1="628.20" y1="289.50" x2="628.20" y2="291.20" stroke="#000" stroke-width="0.3"/>
<text x="625.08" y="295.80" font-size="5.39" textLength="6.24" lengthAdjust="spacingAndGlyphs" fill="#000" stroke="#000" stroke-width="0.1">80</text>
<line x1="487.70" y1="213.70" x2="489.40" y2="213.70" stroke="#000" stroke-width="0.3"/>
<text x="483.68" y="215.50" font-size="5.39" textLength="3.12" lengthAdjust="spacingAndGlyphs" fill="#000" stroke="#000" stroke-width="0.1">2</text>
<line x1="487.70" y1="231.10" x2="489.40" y2="231.10" stroke="#000" stroke-width="0.3"/>
<text x="483.68" y="232.90" font-size="5.39" textLength="3.12" lengthAdjust="spacingAndGlyphs" fill="#000" stroke="#000" stroke-width="0.1">1</text>
<line x1="487.70" y1="248.50" x2="489.40" y2="248.50" stroke="#000" stroke-width="0.3"/>
<text x="483.68" y="250.30" font-size="5.39" textLength="3.12" lengthAdjust="spacingAndGlyphs" fill="#000" stroke="#000" stroke-width="0.1">0</text>
<line x1="487.70" y1="265.90" x2="489.40" y2="265.90" stroke="#000" stroke-width="0.3"/>
<text x="483.68" y="267.70" font-size="5.39" textLength="3.12" lengthAdjust="spacingAndGlyphs" fill="#000" stroke="#000" stroke-width="0.1">1</text>
<line x1="487.70" y1="283.30" x2="489.40" y2="283.30" stroke="#000" stroke-width="0.3"/>
<text x="483.68" y="285.10" font-size="5.39" textLength="3.12" lengthAdjust="spacingAndGlyphs" fill="#000" stroke="#000" stroke-width="0.1">2</text>
<text x="520.45" y="205.90" font-size="6.32" textLength="81.69" lengthAdjust="spacingAndGlyphs" fill="#000" stroke="#000" stroke-width="0.08">CounteRGAN: Changes on x</text>
</svg>
<div class="cap">
<div class="ln" style="top:302px"><i>Figure 3.</i> Qualitative results on the <i>Spike</i> dataset. <b>Column 1</b> shows the original input <b>x</b> for CounTS, RGD, and CounteRGAN, respectively.</div>
<div class="ln" style="top:316px"><b>Column 2</b> shows the predictions <b>y</b><sup>pred</sup> and counterfactual (target) labels <b>y</b><sup class="cf">cf</sup>. The prediction for RGD and CounteRGAN are identical</div>
<div class="ln" style="top:330px">since they use the same prediction model. <b>Column 3</b> shows the counterfactual input <b>x</b><sup class="cf">cf</sup>. <b>Column 4</b> shows the changes on input, i.e.,</div>
<div class="ln" style="top:344px;text-align:left;text-align-last:left"><b>x</b><sup class="cf">cf</sup> &minus; <b>x</b>.</div>
</div>

</body></html>
